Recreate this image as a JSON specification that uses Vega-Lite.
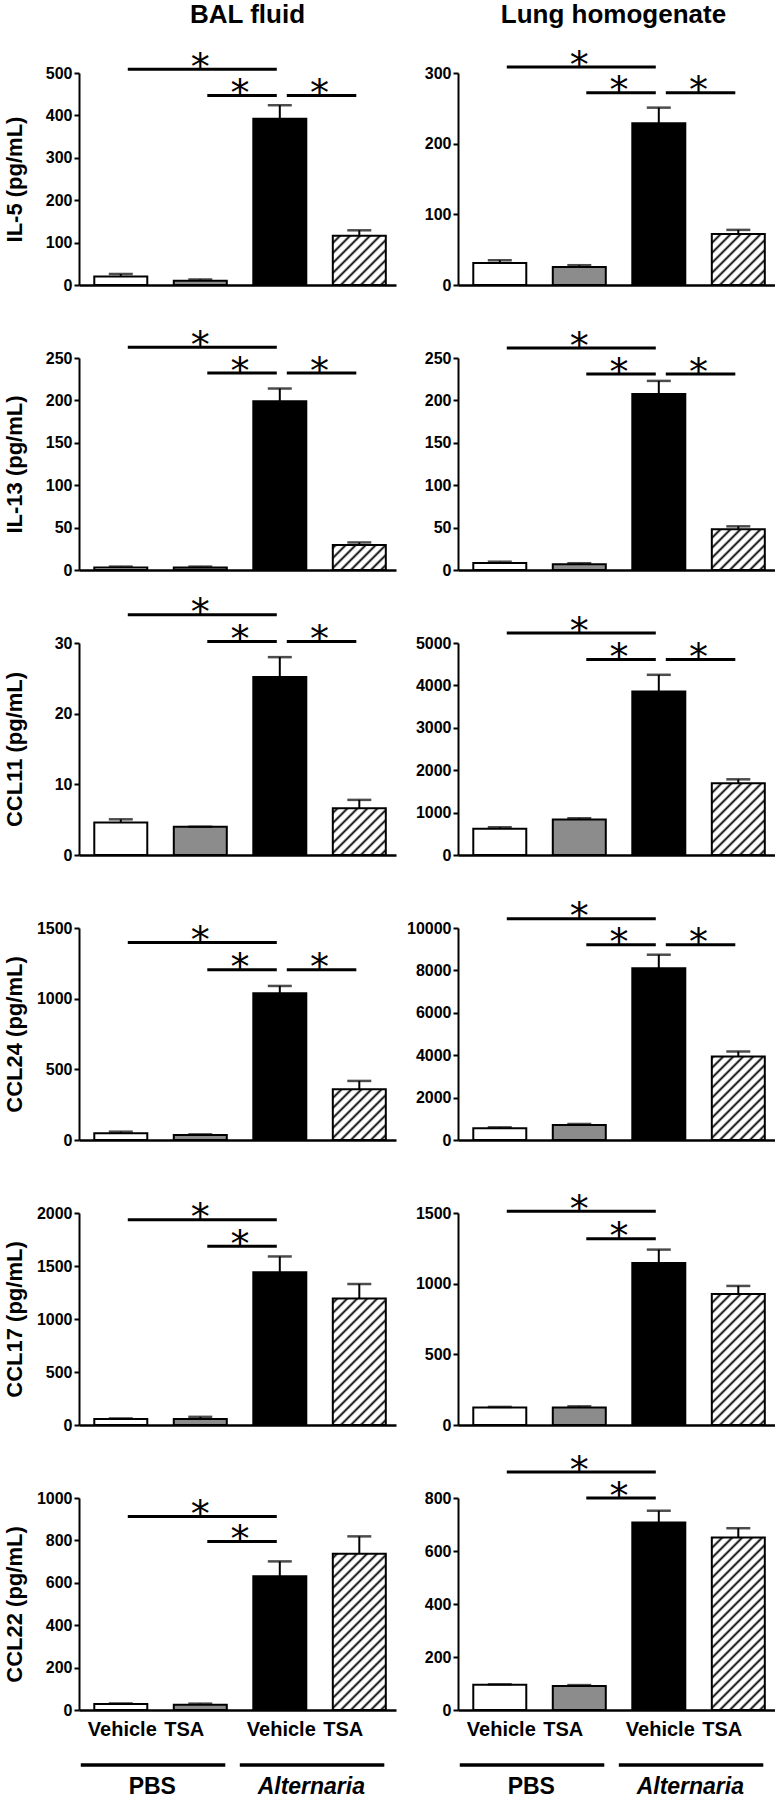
{
"$schema": "https://vega.github.io/schema/vega-lite/v6.json",
"padding": {"left": 3, "top": 2, "right": 0, "bottom": 0},
"columns": 2,
"spacing": {"row": 73, "column": 62},
"bounds": "flush",
"datasets": {
"bars": [
{"source":"BAL fluid","cytokine":"IL-5","group":"PBS Vehicle","mean":20,"upper":26},
{"source":"BAL fluid","cytokine":"IL-5","group":"PBS TSA","mean":10,"upper":13},
{"source":"BAL fluid","cytokine":"IL-5","group":"Alternaria Vehicle","mean":392,"upper":424},
{"source":"BAL fluid","cytokine":"IL-5","group":"Alternaria TSA","mean":116,"upper":129},
{"source":"Lung homogenate","cytokine":"IL-5","group":"PBS Vehicle","mean":31,"upper":35},
{"source":"Lung homogenate","cytokine":"IL-5","group":"PBS TSA","mean":25.5,"upper":28},
{"source":"Lung homogenate","cytokine":"IL-5","group":"Alternaria Vehicle","mean":229,"upper":251},
{"source":"Lung homogenate","cytokine":"IL-5","group":"Alternaria TSA","mean":72,"upper":78},
{"source":"BAL fluid","cytokine":"IL-13","group":"PBS Vehicle","mean":3,"upper":4},
{"source":"BAL fluid","cytokine":"IL-13","group":"PBS TSA","mean":3,"upper":4},
{"source":"BAL fluid","cytokine":"IL-13","group":"Alternaria Vehicle","mean":199,"upper":214},
{"source":"BAL fluid","cytokine":"IL-13","group":"Alternaria TSA","mean":29.5,"upper":32.5},
{"source":"Lung homogenate","cytokine":"IL-13","group":"PBS Vehicle","mean":8.3,"upper":9.8},
{"source":"Lung homogenate","cytokine":"IL-13","group":"PBS TSA","mean":6.7,"upper":8},
{"source":"Lung homogenate","cytokine":"IL-13","group":"Alternaria Vehicle","mean":207.5,"upper":223},
{"source":"Lung homogenate","cytokine":"IL-13","group":"Alternaria TSA","mean":48,"upper":51.5},
{"source":"BAL fluid","cytokine":"CCL11","group":"PBS Vehicle","mean":4.6,"upper":5.05},
{"source":"BAL fluid","cytokine":"CCL11","group":"PBS TSA","mean":4.0,"upper":4.0},
{"source":"BAL fluid","cytokine":"CCL11","group":"Alternaria Vehicle","mean":25.2,"upper":28.0},
{"source":"BAL fluid","cytokine":"CCL11","group":"Alternaria TSA","mean":6.6,"upper":7.8},
{"source":"Lung homogenate","cytokine":"CCL11","group":"PBS Vehicle","mean":620,"upper":655},
{"source":"Lung homogenate","cytokine":"CCL11","group":"PBS TSA","mean":835,"upper":867},
{"source":"Lung homogenate","cytokine":"CCL11","group":"Alternaria Vehicle","mean":3855,"upper":4250},
{"source":"Lung homogenate","cytokine":"CCL11","group":"Alternaria TSA","mean":1690,"upper":1785},
{"source":"BAL fluid","cytokine":"CCL24","group":"PBS Vehicle","mean":47,"upper":59},
{"source":"BAL fluid","cytokine":"CCL24","group":"PBS TSA","mean":35,"upper":40},
{"source":"BAL fluid","cytokine":"CCL24","group":"Alternaria Vehicle","mean":1039,"upper":1090},
{"source":"BAL fluid","cytokine":"CCL24","group":"Alternaria TSA","mean":359,"upper":418},
{"source":"Lung homogenate","cytokine":"CCL24","group":"PBS Vehicle","mean":550,"upper":598},
{"source":"Lung homogenate","cytokine":"CCL24","group":"PBS TSA","mean":710,"upper":756},
{"source":"Lung homogenate","cytokine":"CCL24","group":"Alternaria Vehicle","mean":8100,"upper":8740},
{"source":"Lung homogenate","cytokine":"CCL24","group":"Alternaria TSA","mean":3940,"upper":4175},
{"source":"BAL fluid","cytokine":"CCL17","group":"PBS Vehicle","mean":57,"upper":62},
{"source":"BAL fluid","cytokine":"CCL17","group":"PBS TSA","mean":57,"upper":77},
{"source":"BAL fluid","cytokine":"CCL17","group":"Alternaria Vehicle","mean":1440,"upper":1590},
{"source":"BAL fluid","cytokine":"CCL17","group":"Alternaria TSA","mean":1193,"upper":1330},
{"source":"Lung homogenate","cytokine":"CCL17","group":"PBS Vehicle","mean":123,"upper":128},
{"source":"Lung homogenate","cytokine":"CCL17","group":"PBS TSA","mean":123,"upper":132},
{"source":"Lung homogenate","cytokine":"CCL17","group":"Alternaria Vehicle","mean":1146,"upper":1241},
{"source":"Lung homogenate","cytokine":"CCL17","group":"Alternaria TSA","mean":927,"upper":984},
{"source":"BAL fluid","cytokine":"CCL22","group":"PBS Vehicle","mean":28,"upper":31},
{"source":"BAL fluid","cytokine":"CCL22","group":"PBS TSA","mean":25,"upper":30},
{"source":"BAL fluid","cytokine":"CCL22","group":"Alternaria Vehicle","mean":631,"upper":701},
{"source":"BAL fluid","cytokine":"CCL22","group":"Alternaria TSA","mean":737,"upper":819},
{"source":"Lung homogenate","cytokine":"CCL22","group":"PBS Vehicle","mean":95,"upper":97},
{"source":"Lung homogenate","cytokine":"CCL22","group":"PBS TSA","mean":91,"upper":94},
{"source":"Lung homogenate","cytokine":"CCL22","group":"Alternaria Vehicle","mean":708,"upper":752},
{"source":"Lung homogenate","cytokine":"CCL22","group":"Alternaria TSA","mean":651,"upper":686}
],
"sig": [
{"source":"BAL fluid","cytokine":"IL-5","from":"PBS Vehicle","to":"Alternaria Vehicle","level":509,"label":"*"},
{"source":"BAL fluid","cytokine":"IL-5","from":"PBS TSA","to":"Alternaria Vehicle","level":447,"label":"*"},
{"source":"BAL fluid","cytokine":"IL-5","from":"Alternaria Vehicle","to":"Alternaria TSA","level":447,"label":"*"},
{"source":"Lung homogenate","cytokine":"IL-5","from":"PBS Vehicle","to":"Alternaria Vehicle","level":308.5,"label":"*"},
{"source":"Lung homogenate","cytokine":"IL-5","from":"PBS TSA","to":"Alternaria Vehicle","level":272,"label":"*"},
{"source":"Lung homogenate","cytokine":"IL-5","from":"Alternaria Vehicle","to":"Alternaria TSA","level":272,"label":"*"},
{"source":"BAL fluid","cytokine":"IL-13","from":"PBS Vehicle","to":"Alternaria Vehicle","level":262.6,"label":"*"},
{"source":"BAL fluid","cytokine":"IL-13","from":"PBS TSA","to":"Alternaria Vehicle","level":232.3,"label":"*"},
{"source":"BAL fluid","cytokine":"IL-13","from":"Alternaria Vehicle","to":"Alternaria TSA","level":232.3,"label":"*"},
{"source":"Lung homogenate","cytokine":"IL-13","from":"PBS Vehicle","to":"Alternaria Vehicle","level":261.8,"label":"*"},
{"source":"Lung homogenate","cytokine":"IL-13","from":"PBS TSA","to":"Alternaria Vehicle","level":231,"label":"*"},
{"source":"Lung homogenate","cytokine":"IL-13","from":"Alternaria Vehicle","to":"Alternaria TSA","level":231,"label":"*"},
{"source":"BAL fluid","cytokine":"CCL11","from":"PBS Vehicle","to":"Alternaria Vehicle","level":34.0,"label":"*"},
{"source":"BAL fluid","cytokine":"CCL11","from":"PBS TSA","to":"Alternaria Vehicle","level":30.2,"label":"*"},
{"source":"BAL fluid","cytokine":"CCL11","from":"Alternaria Vehicle","to":"Alternaria TSA","level":30.2,"label":"*"},
{"source":"Lung homogenate","cytokine":"CCL11","from":"PBS Vehicle","to":"Alternaria Vehicle","level":5235,"label":"*"},
{"source":"Lung homogenate","cytokine":"CCL11","from":"PBS TSA","to":"Alternaria Vehicle","level":4608,"label":"*"},
{"source":"Lung homogenate","cytokine":"CCL11","from":"Alternaria Vehicle","to":"Alternaria TSA","level":4608,"label":"*"},
{"source":"BAL fluid","cytokine":"CCL24","from":"PBS Vehicle","to":"Alternaria Vehicle","level":1398,"label":"*"},
{"source":"BAL fluid","cytokine":"CCL24","from":"PBS TSA","to":"Alternaria Vehicle","level":1205,"label":"*"},
{"source":"BAL fluid","cytokine":"CCL24","from":"Alternaria Vehicle","to":"Alternaria TSA","level":1205,"label":"*"},
{"source":"Lung homogenate","cytokine":"CCL24","from":"PBS Vehicle","to":"Alternaria Vehicle","level":10441,"label":"*"},
{"source":"Lung homogenate","cytokine":"CCL24","from":"PBS TSA","to":"Alternaria Vehicle","level":9213,"label":"*"},
{"source":"Lung homogenate","cytokine":"CCL24","from":"Alternaria Vehicle","to":"Alternaria TSA","level":9213,"label":"*"},
{"source":"BAL fluid","cytokine":"CCL17","from":"PBS Vehicle","to":"Alternaria Vehicle","level":1937,"label":"*"},
{"source":"BAL fluid","cytokine":"CCL17","from":"PBS TSA","to":"Alternaria Vehicle","level":1687,"label":"*"},
{"source":"Lung homogenate","cytokine":"CCL17","from":"PBS Vehicle","to":"Alternaria Vehicle","level":1512,"label":"*"},
{"source":"Lung homogenate","cytokine":"CCL17","from":"PBS TSA","to":"Alternaria Vehicle","level":1318,"label":"*"},
{"source":"BAL fluid","cytokine":"CCL22","from":"PBS Vehicle","to":"Alternaria Vehicle","level":913,"label":"*"},
{"source":"BAL fluid","cytokine":"CCL22","from":"PBS TSA","to":"Alternaria Vehicle","level":795,"label":"*"},
{"source":"Lung homogenate","cytokine":"CCL22","from":"PBS Vehicle","to":"Alternaria Vehicle","level":898,"label":"*"},
{"source":"Lung homogenate","cytokine":"CCL22","from":"PBS TSA","to":"Alternaria Vehicle","level":800,"label":"*"}
],
"groups": [
{"name":"PBS","from":"PBS Vehicle","to":"PBS TSA"},
{"name":"Alternaria","from":"Alternaria Vehicle","to":"Alternaria TSA"}
]
},
"concat": [
{"width":317,"height":212,
"title":{"text":"BAL fluid","fontSize":26,"fontWeight":"bold","font":"Liberation Sans","anchor":"middle","frame":"group","baseline":"alphabetic","offset":0.6,"dx":10,"color":"#000000"},
"layer":[
{"data":{"name":"bars"},"transform":[{"filter":"datum.source === 'BAL fluid' && datum.cytokine === 'IL-5' && datum.group === 'Alternaria TSA'"}],"mark":{"type":"bar","size":53,"strokeWidth":0,"fill":{"gradient":"linear","x1":0,"y1":0,"x2":0.29967,"y2":1.19867,"stops":[{"offset":0,"color":"#000"},{"offset":0.0096,"color":"#fff"},{"offset":0.0274,"color":"#fff"},{"offset":0.037,"color":"#000"},{"offset":0.0467,"color":"#fff"},{"offset":0.0644,"color":"#fff"},{"offset":0.0741,"color":"#000"},{"offset":0.0837,"color":"#fff"},{"offset":0.1015,"color":"#fff"},{"offset":0.1111,"color":"#000"},{"offset":0.1207,"color":"#fff"},{"offset":0.1385,"color":"#fff"},{"offset":0.1481,"color":"#000"},{"offset":0.1578,"color":"#fff"},{"offset":0.1756,"color":"#fff"},{"offset":0.1852,"color":"#000"},{"offset":0.1948,"color":"#fff"},{"offset":0.2126,"color":"#fff"},{"offset":0.2222,"color":"#000"},{"offset":0.2319,"color":"#fff"},{"offset":0.2496,"color":"#fff"},{"offset":0.2593,"color":"#000"},{"offset":0.2689,"color":"#fff"},{"offset":0.2867,"color":"#fff"},{"offset":0.2963,"color":"#000"},{"offset":0.3059,"color":"#fff"},{"offset":0.3237,"color":"#fff"},{"offset":0.3333,"color":"#000"},{"offset":0.343,"color":"#fff"},{"offset":0.3607,"color":"#fff"},{"offset":0.3704,"color":"#000"},{"offset":0.38,"color":"#fff"},{"offset":0.3978,"color":"#fff"},{"offset":0.4074,"color":"#000"},{"offset":0.417,"color":"#fff"},{"offset":0.4348,"color":"#fff"},{"offset":0.4444,"color":"#000"},{"offset":0.4541,"color":"#fff"},{"offset":0.4719,"color":"#fff"},{"offset":0.4815,"color":"#000"},{"offset":0.4911,"color":"#fff"},{"offset":0.5089,"color":"#fff"},{"offset":0.5185,"color":"#000"},{"offset":0.5281,"color":"#fff"},{"offset":0.5459,"color":"#fff"},{"offset":0.5556,"color":"#000"},{"offset":0.5652,"color":"#fff"},{"offset":0.583,"color":"#fff"},{"offset":0.5926,"color":"#000"},{"offset":0.6022,"color":"#fff"},{"offset":0.62,"color":"#fff"},{"offset":0.6296,"color":"#000"},{"offset":0.6393,"color":"#fff"},{"offset":0.657,"color":"#fff"},{"offset":0.6667,"color":"#000"},{"offset":0.6763,"color":"#fff"},{"offset":0.6941,"color":"#fff"},{"offset":0.7037,"color":"#000"},{"offset":0.7133,"color":"#fff"},{"offset":0.7311,"color":"#fff"},{"offset":0.7407,"color":"#000"},{"offset":0.7504,"color":"#fff"},{"offset":0.7681,"color":"#fff"},{"offset":0.7778,"color":"#000"},{"offset":0.7874,"color":"#fff"},{"offset":0.8052,"color":"#fff"},{"offset":0.8148,"color":"#000"},{"offset":0.8244,"color":"#fff"},{"offset":0.8422,"color":"#fff"},{"offset":0.8519,"color":"#000"},{"offset":0.8615,"color":"#fff"},{"offset":0.8793,"color":"#fff"},{"offset":0.8889,"color":"#000"},{"offset":0.8985,"color":"#fff"},{"offset":0.9163,"color":"#fff"},{"offset":0.9259,"color":"#000"},{"offset":0.9356,"color":"#fff"},{"offset":0.9533,"color":"#fff"},{"offset":0.963,"color":"#000"},{"offset":0.9726,"color":"#fff"},{"offset":0.9904,"color":"#fff"},{"offset":1,"color":"#000"}]}},"encoding":{"x":{"field":"group","type":"nominal","scale":{"type":"band","domain":["PBS Vehicle","PBS TSA","Alternaria Vehicle","Alternaria TSA"],"paddingInner":0.333,"paddingOuter":0.16,"align":0.6}},"y":{"datum":500,"type":"quantitative","scale":{"domain":[0,500],"nice":false}},"y2":{"datum":0}}},
{"data":{"name":"bars"},"transform":[{"filter":"datum.source === 'BAL fluid' && datum.cytokine === 'IL-5' && datum.group === 'Alternaria TSA'"}],"mark":{"type":"bar","fill":"#ffffff","size":57,"strokeWidth":0},"encoding":{"x":{"field":"group","type":"nominal","scale":{"type":"band","domain":["PBS Vehicle","PBS TSA","Alternaria Vehicle","Alternaria TSA"],"paddingInner":0.333,"paddingOuter":0.16,"align":0.6}},"y":{"field":"mean","type":"quantitative","scale":{"domain":[0,500],"nice":false}},"y2":{"datum":500}}},
{"data":{"name":"bars"},"transform":[{"filter":"datum.source === 'BAL fluid' && datum.cytokine === 'IL-5'"}],"mark":{"type":"bar","size":53,"stroke":"#000000","strokeWidth":2},"encoding":{"x":{"field":"group","type":"nominal","scale":{"type":"band","domain":["PBS Vehicle","PBS TSA","Alternaria Vehicle","Alternaria TSA"],"paddingInner":0.333,"paddingOuter":0.16,"align":0.6},"axis":{"title":null,"labels":false,"ticks":false,"domainWidth":2.5}},"y":{"field":"mean","type":"quantitative","scale":{"domain":[0,500],"nice":false},"axis":{"title":"IL-5 (pg/mL)","values":[0,100,200,300,400,500],"format":"d","titlePadding":19.3}},"fill":{"field":"group","type":"nominal","scale":{"domain":["PBS Vehicle","PBS TSA","Alternaria Vehicle","Alternaria TSA"],"range":["#ffffff","#8c8c8c","#000000","transparent"]},"legend":null}}},
{"data":{"name":"bars"},"transform":[{"filter":"datum.source === 'BAL fluid' && datum.cytokine === 'IL-5'"}],"mark":{"type":"rule","color":"#000000","strokeWidth":2},"encoding":{"x":{"field":"group","type":"nominal","scale":{"type":"band","domain":["PBS Vehicle","PBS TSA","Alternaria Vehicle","Alternaria TSA"],"paddingInner":0.333,"paddingOuter":0.16,"align":0.6}},"y":{"field":"mean","type":"quantitative","scale":{"domain":[0,500],"nice":false}},"y2":{"field":"upper"}}},
{"data":{"name":"bars"},"transform":[{"filter":"datum.source === 'BAL fluid' && datum.cytokine === 'IL-5'"}],"mark":{"type":"tick","color":"#000000","size":24,"thickness":2.5},"encoding":{"x":{"field":"group","type":"nominal","scale":{"type":"band","domain":["PBS Vehicle","PBS TSA","Alternaria Vehicle","Alternaria TSA"],"paddingInner":0.333,"paddingOuter":0.16,"align":0.6}},"y":{"field":"upper","type":"quantitative","scale":{"domain":[0,500],"nice":false}}}},
{"data":{"name":"sig"},"transform":[{"filter":"datum.source === 'BAL fluid' && datum.cytokine === 'IL-5'"}],"mark":{"type":"rule","color":"#000000","strokeWidth":3,"xOffset":7,"x2Offset":-3},"encoding":{"x":{"field":"from","type":"nominal","bandPosition":0.5,"scale":{"type":"band","domain":["PBS Vehicle","PBS TSA","Alternaria Vehicle","Alternaria TSA"],"paddingInner":0.333,"paddingOuter":0.16,"align":0.6}},"x2":{"field":"to"},"y":{"field":"level","type":"quantitative","scale":{"domain":[0,500],"nice":false}}}},
{"data":{"name":"sig"},"transform":[{"filter":"datum.source === 'BAL fluid' && datum.cytokine === 'IL-5' && datum.from === 'PBS Vehicle'"}],"mark":{"type":"text","font":"DejaVu Sans","fontSize":38,"dx":79.5,"dy":10.7,"baseline":"alphabetic","align":"center","color":"#000000"},"encoding":{"x":{"field":"from","type":"nominal","bandPosition":0.5,"scale":{"type":"band","domain":["PBS Vehicle","PBS TSA","Alternaria Vehicle","Alternaria TSA"],"paddingInner":0.333,"paddingOuter":0.16,"align":0.6}},"y":{"field":"level","type":"quantitative","scale":{"domain":[0,500],"nice":false}},"text":{"field":"label"}}},
{"data":{"name":"sig"},"transform":[{"filter":"datum.source === 'BAL fluid' && datum.cytokine === 'IL-5' && datum.from !== 'PBS Vehicle'"}],"mark":{"type":"text","font":"DejaVu Sans","fontSize":38,"dx":39.75,"dy":10.7,"baseline":"alphabetic","align":"center","color":"#000000"},"encoding":{"x":{"field":"from","type":"nominal","bandPosition":0.5,"scale":{"type":"band","domain":["PBS Vehicle","PBS TSA","Alternaria Vehicle","Alternaria TSA"],"paddingInner":0.333,"paddingOuter":0.16,"align":0.6}},"y":{"field":"level","type":"quantitative","scale":{"domain":[0,500],"nice":false}},"text":{"field":"label"}}}
]},
{"width":317,"height":212,
"title":{"text":"Lung homogenate","fontSize":26,"fontWeight":"bold","font":"Liberation Sans","anchor":"middle","frame":"group","baseline":"alphabetic","offset":-1.4,"dx":-3,"color":"#000000"},
"layer":[
{"data":{"name":"bars"},"transform":[{"filter":"datum.source === 'Lung homogenate' && datum.cytokine === 'IL-5' && datum.group === 'Alternaria TSA'"}],"mark":{"type":"bar","size":53,"strokeWidth":0,"fill":{"gradient":"linear","x1":0,"y1":0,"x2":0.29967,"y2":1.19867,"stops":[{"offset":0,"color":"#000"},{"offset":0.0096,"color":"#fff"},{"offset":0.0274,"color":"#fff"},{"offset":0.037,"color":"#000"},{"offset":0.0467,"color":"#fff"},{"offset":0.0644,"color":"#fff"},{"offset":0.0741,"color":"#000"},{"offset":0.0837,"color":"#fff"},{"offset":0.1015,"color":"#fff"},{"offset":0.1111,"color":"#000"},{"offset":0.1207,"color":"#fff"},{"offset":0.1385,"color":"#fff"},{"offset":0.1481,"color":"#000"},{"offset":0.1578,"color":"#fff"},{"offset":0.1756,"color":"#fff"},{"offset":0.1852,"color":"#000"},{"offset":0.1948,"color":"#fff"},{"offset":0.2126,"color":"#fff"},{"offset":0.2222,"color":"#000"},{"offset":0.2319,"color":"#fff"},{"offset":0.2496,"color":"#fff"},{"offset":0.2593,"color":"#000"},{"offset":0.2689,"color":"#fff"},{"offset":0.2867,"color":"#fff"},{"offset":0.2963,"color":"#000"},{"offset":0.3059,"color":"#fff"},{"offset":0.3237,"color":"#fff"},{"offset":0.3333,"color":"#000"},{"offset":0.343,"color":"#fff"},{"offset":0.3607,"color":"#fff"},{"offset":0.3704,"color":"#000"},{"offset":0.38,"color":"#fff"},{"offset":0.3978,"color":"#fff"},{"offset":0.4074,"color":"#000"},{"offset":0.417,"color":"#fff"},{"offset":0.4348,"color":"#fff"},{"offset":0.4444,"color":"#000"},{"offset":0.4541,"color":"#fff"},{"offset":0.4719,"color":"#fff"},{"offset":0.4815,"color":"#000"},{"offset":0.4911,"color":"#fff"},{"offset":0.5089,"color":"#fff"},{"offset":0.5185,"color":"#000"},{"offset":0.5281,"color":"#fff"},{"offset":0.5459,"color":"#fff"},{"offset":0.5556,"color":"#000"},{"offset":0.5652,"color":"#fff"},{"offset":0.583,"color":"#fff"},{"offset":0.5926,"color":"#000"},{"offset":0.6022,"color":"#fff"},{"offset":0.62,"color":"#fff"},{"offset":0.6296,"color":"#000"},{"offset":0.6393,"color":"#fff"},{"offset":0.657,"color":"#fff"},{"offset":0.6667,"color":"#000"},{"offset":0.6763,"color":"#fff"},{"offset":0.6941,"color":"#fff"},{"offset":0.7037,"color":"#000"},{"offset":0.7133,"color":"#fff"},{"offset":0.7311,"color":"#fff"},{"offset":0.7407,"color":"#000"},{"offset":0.7504,"color":"#fff"},{"offset":0.7681,"color":"#fff"},{"offset":0.7778,"color":"#000"},{"offset":0.7874,"color":"#fff"},{"offset":0.8052,"color":"#fff"},{"offset":0.8148,"color":"#000"},{"offset":0.8244,"color":"#fff"},{"offset":0.8422,"color":"#fff"},{"offset":0.8519,"color":"#000"},{"offset":0.8615,"color":"#fff"},{"offset":0.8793,"color":"#fff"},{"offset":0.8889,"color":"#000"},{"offset":0.8985,"color":"#fff"},{"offset":0.9163,"color":"#fff"},{"offset":0.9259,"color":"#000"},{"offset":0.9356,"color":"#fff"},{"offset":0.9533,"color":"#fff"},{"offset":0.963,"color":"#000"},{"offset":0.9726,"color":"#fff"},{"offset":0.9904,"color":"#fff"},{"offset":1,"color":"#000"}]}},"encoding":{"x":{"field":"group","type":"nominal","scale":{"type":"band","domain":["PBS Vehicle","PBS TSA","Alternaria Vehicle","Alternaria TSA"],"paddingInner":0.333,"paddingOuter":0.16,"align":0.6}},"y":{"datum":300,"type":"quantitative","scale":{"domain":[0,300],"nice":false}},"y2":{"datum":0}}},
{"data":{"name":"bars"},"transform":[{"filter":"datum.source === 'Lung homogenate' && datum.cytokine === 'IL-5' && datum.group === 'Alternaria TSA'"}],"mark":{"type":"bar","fill":"#ffffff","size":57,"strokeWidth":0},"encoding":{"x":{"field":"group","type":"nominal","scale":{"type":"band","domain":["PBS Vehicle","PBS TSA","Alternaria Vehicle","Alternaria TSA"],"paddingInner":0.333,"paddingOuter":0.16,"align":0.6}},"y":{"field":"mean","type":"quantitative","scale":{"domain":[0,300],"nice":false}},"y2":{"datum":300}}},
{"data":{"name":"bars"},"transform":[{"filter":"datum.source === 'Lung homogenate' && datum.cytokine === 'IL-5'"}],"mark":{"type":"bar","size":53,"stroke":"#000000","strokeWidth":2},"encoding":{"x":{"field":"group","type":"nominal","scale":{"type":"band","domain":["PBS Vehicle","PBS TSA","Alternaria Vehicle","Alternaria TSA"],"paddingInner":0.333,"paddingOuter":0.16,"align":0.6},"axis":{"title":null,"labels":false,"ticks":false,"domainWidth":2.5}},"y":{"field":"mean","type":"quantitative","scale":{"domain":[0,300],"nice":false},"axis":{"title":null,"values":[0,100,200,300],"format":"d"}},"fill":{"field":"group","type":"nominal","scale":{"domain":["PBS Vehicle","PBS TSA","Alternaria Vehicle","Alternaria TSA"],"range":["#ffffff","#8c8c8c","#000000","transparent"]},"legend":null}}},
{"data":{"name":"bars"},"transform":[{"filter":"datum.source === 'Lung homogenate' && datum.cytokine === 'IL-5'"}],"mark":{"type":"rule","color":"#000000","strokeWidth":2},"encoding":{"x":{"field":"group","type":"nominal","scale":{"type":"band","domain":["PBS Vehicle","PBS TSA","Alternaria Vehicle","Alternaria TSA"],"paddingInner":0.333,"paddingOuter":0.16,"align":0.6}},"y":{"field":"mean","type":"quantitative","scale":{"domain":[0,300],"nice":false}},"y2":{"field":"upper"}}},
{"data":{"name":"bars"},"transform":[{"filter":"datum.source === 'Lung homogenate' && datum.cytokine === 'IL-5'"}],"mark":{"type":"tick","color":"#000000","size":24,"thickness":2.5},"encoding":{"x":{"field":"group","type":"nominal","scale":{"type":"band","domain":["PBS Vehicle","PBS TSA","Alternaria Vehicle","Alternaria TSA"],"paddingInner":0.333,"paddingOuter":0.16,"align":0.6}},"y":{"field":"upper","type":"quantitative","scale":{"domain":[0,300],"nice":false}}}},
{"data":{"name":"sig"},"transform":[{"filter":"datum.source === 'Lung homogenate' && datum.cytokine === 'IL-5'"}],"mark":{"type":"rule","color":"#000000","strokeWidth":3,"xOffset":7,"x2Offset":-3},"encoding":{"x":{"field":"from","type":"nominal","bandPosition":0.5,"scale":{"type":"band","domain":["PBS Vehicle","PBS TSA","Alternaria Vehicle","Alternaria TSA"],"paddingInner":0.333,"paddingOuter":0.16,"align":0.6}},"x2":{"field":"to"},"y":{"field":"level","type":"quantitative","scale":{"domain":[0,300],"nice":false}}}},
{"data":{"name":"sig"},"transform":[{"filter":"datum.source === 'Lung homogenate' && datum.cytokine === 'IL-5' && datum.from === 'PBS Vehicle'"}],"mark":{"type":"text","font":"DejaVu Sans","fontSize":38,"dx":79.5,"dy":10.7,"baseline":"alphabetic","align":"center","color":"#000000"},"encoding":{"x":{"field":"from","type":"nominal","bandPosition":0.5,"scale":{"type":"band","domain":["PBS Vehicle","PBS TSA","Alternaria Vehicle","Alternaria TSA"],"paddingInner":0.333,"paddingOuter":0.16,"align":0.6}},"y":{"field":"level","type":"quantitative","scale":{"domain":[0,300],"nice":false}},"text":{"field":"label"}}},
{"data":{"name":"sig"},"transform":[{"filter":"datum.source === 'Lung homogenate' && datum.cytokine === 'IL-5' && datum.from !== 'PBS Vehicle'"}],"mark":{"type":"text","font":"DejaVu Sans","fontSize":38,"dx":39.75,"dy":10.7,"baseline":"alphabetic","align":"center","color":"#000000"},"encoding":{"x":{"field":"from","type":"nominal","bandPosition":0.5,"scale":{"type":"band","domain":["PBS Vehicle","PBS TSA","Alternaria Vehicle","Alternaria TSA"],"paddingInner":0.333,"paddingOuter":0.16,"align":0.6}},"y":{"field":"level","type":"quantitative","scale":{"domain":[0,300],"nice":false}},"text":{"field":"label"}}}
]},
{"width":317,"height":212,
"layer":[
{"data":{"name":"bars"},"transform":[{"filter":"datum.source === 'BAL fluid' && datum.cytokine === 'IL-13' && datum.group === 'Alternaria TSA'"}],"mark":{"type":"bar","size":53,"strokeWidth":0,"fill":{"gradient":"linear","x1":0,"y1":0,"x2":0.29967,"y2":1.19867,"stops":[{"offset":0,"color":"#000"},{"offset":0.0096,"color":"#fff"},{"offset":0.0274,"color":"#fff"},{"offset":0.037,"color":"#000"},{"offset":0.0467,"color":"#fff"},{"offset":0.0644,"color":"#fff"},{"offset":0.0741,"color":"#000"},{"offset":0.0837,"color":"#fff"},{"offset":0.1015,"color":"#fff"},{"offset":0.1111,"color":"#000"},{"offset":0.1207,"color":"#fff"},{"offset":0.1385,"color":"#fff"},{"offset":0.1481,"color":"#000"},{"offset":0.1578,"color":"#fff"},{"offset":0.1756,"color":"#fff"},{"offset":0.1852,"color":"#000"},{"offset":0.1948,"color":"#fff"},{"offset":0.2126,"color":"#fff"},{"offset":0.2222,"color":"#000"},{"offset":0.2319,"color":"#fff"},{"offset":0.2496,"color":"#fff"},{"offset":0.2593,"color":"#000"},{"offset":0.2689,"color":"#fff"},{"offset":0.2867,"color":"#fff"},{"offset":0.2963,"color":"#000"},{"offset":0.3059,"color":"#fff"},{"offset":0.3237,"color":"#fff"},{"offset":0.3333,"color":"#000"},{"offset":0.343,"color":"#fff"},{"offset":0.3607,"color":"#fff"},{"offset":0.3704,"color":"#000"},{"offset":0.38,"color":"#fff"},{"offset":0.3978,"color":"#fff"},{"offset":0.4074,"color":"#000"},{"offset":0.417,"color":"#fff"},{"offset":0.4348,"color":"#fff"},{"offset":0.4444,"color":"#000"},{"offset":0.4541,"color":"#fff"},{"offset":0.4719,"color":"#fff"},{"offset":0.4815,"color":"#000"},{"offset":0.4911,"color":"#fff"},{"offset":0.5089,"color":"#fff"},{"offset":0.5185,"color":"#000"},{"offset":0.5281,"color":"#fff"},{"offset":0.5459,"color":"#fff"},{"offset":0.5556,"color":"#000"},{"offset":0.5652,"color":"#fff"},{"offset":0.583,"color":"#fff"},{"offset":0.5926,"color":"#000"},{"offset":0.6022,"color":"#fff"},{"offset":0.62,"color":"#fff"},{"offset":0.6296,"color":"#000"},{"offset":0.6393,"color":"#fff"},{"offset":0.657,"color":"#fff"},{"offset":0.6667,"color":"#000"},{"offset":0.6763,"color":"#fff"},{"offset":0.6941,"color":"#fff"},{"offset":0.7037,"color":"#000"},{"offset":0.7133,"color":"#fff"},{"offset":0.7311,"color":"#fff"},{"offset":0.7407,"color":"#000"},{"offset":0.7504,"color":"#fff"},{"offset":0.7681,"color":"#fff"},{"offset":0.7778,"color":"#000"},{"offset":0.7874,"color":"#fff"},{"offset":0.8052,"color":"#fff"},{"offset":0.8148,"color":"#000"},{"offset":0.8244,"color":"#fff"},{"offset":0.8422,"color":"#fff"},{"offset":0.8519,"color":"#000"},{"offset":0.8615,"color":"#fff"},{"offset":0.8793,"color":"#fff"},{"offset":0.8889,"color":"#000"},{"offset":0.8985,"color":"#fff"},{"offset":0.9163,"color":"#fff"},{"offset":0.9259,"color":"#000"},{"offset":0.9356,"color":"#fff"},{"offset":0.9533,"color":"#fff"},{"offset":0.963,"color":"#000"},{"offset":0.9726,"color":"#fff"},{"offset":0.9904,"color":"#fff"},{"offset":1,"color":"#000"}]}},"encoding":{"x":{"field":"group","type":"nominal","scale":{"type":"band","domain":["PBS Vehicle","PBS TSA","Alternaria Vehicle","Alternaria TSA"],"paddingInner":0.333,"paddingOuter":0.16,"align":0.6}},"y":{"datum":250,"type":"quantitative","scale":{"domain":[0,250],"nice":false}},"y2":{"datum":0}}},
{"data":{"name":"bars"},"transform":[{"filter":"datum.source === 'BAL fluid' && datum.cytokine === 'IL-13' && datum.group === 'Alternaria TSA'"}],"mark":{"type":"bar","fill":"#ffffff","size":57,"strokeWidth":0},"encoding":{"x":{"field":"group","type":"nominal","scale":{"type":"band","domain":["PBS Vehicle","PBS TSA","Alternaria Vehicle","Alternaria TSA"],"paddingInner":0.333,"paddingOuter":0.16,"align":0.6}},"y":{"field":"mean","type":"quantitative","scale":{"domain":[0,250],"nice":false}},"y2":{"datum":250}}},
{"data":{"name":"bars"},"transform":[{"filter":"datum.source === 'BAL fluid' && datum.cytokine === 'IL-13'"}],"mark":{"type":"bar","size":53,"stroke":"#000000","strokeWidth":2},"encoding":{"x":{"field":"group","type":"nominal","scale":{"type":"band","domain":["PBS Vehicle","PBS TSA","Alternaria Vehicle","Alternaria TSA"],"paddingInner":0.333,"paddingOuter":0.16,"align":0.6},"axis":{"title":null,"labels":false,"ticks":false,"domainWidth":2.5}},"y":{"field":"mean","type":"quantitative","scale":{"domain":[0,250],"nice":false},"axis":{"title":"IL-13 (pg/mL)","values":[0,50,100,150,200,250],"format":"d","titlePadding":19.3}},"fill":{"field":"group","type":"nominal","scale":{"domain":["PBS Vehicle","PBS TSA","Alternaria Vehicle","Alternaria TSA"],"range":["#ffffff","#8c8c8c","#000000","transparent"]},"legend":null}}},
{"data":{"name":"bars"},"transform":[{"filter":"datum.source === 'BAL fluid' && datum.cytokine === 'IL-13'"}],"mark":{"type":"rule","color":"#000000","strokeWidth":2},"encoding":{"x":{"field":"group","type":"nominal","scale":{"type":"band","domain":["PBS Vehicle","PBS TSA","Alternaria Vehicle","Alternaria TSA"],"paddingInner":0.333,"paddingOuter":0.16,"align":0.6}},"y":{"field":"mean","type":"quantitative","scale":{"domain":[0,250],"nice":false}},"y2":{"field":"upper"}}},
{"data":{"name":"bars"},"transform":[{"filter":"datum.source === 'BAL fluid' && datum.cytokine === 'IL-13'"}],"mark":{"type":"tick","color":"#000000","size":24,"thickness":2.5},"encoding":{"x":{"field":"group","type":"nominal","scale":{"type":"band","domain":["PBS Vehicle","PBS TSA","Alternaria Vehicle","Alternaria TSA"],"paddingInner":0.333,"paddingOuter":0.16,"align":0.6}},"y":{"field":"upper","type":"quantitative","scale":{"domain":[0,250],"nice":false}}}},
{"data":{"name":"sig"},"transform":[{"filter":"datum.source === 'BAL fluid' && datum.cytokine === 'IL-13'"}],"mark":{"type":"rule","color":"#000000","strokeWidth":3,"xOffset":7,"x2Offset":-3},"encoding":{"x":{"field":"from","type":"nominal","bandPosition":0.5,"scale":{"type":"band","domain":["PBS Vehicle","PBS TSA","Alternaria Vehicle","Alternaria TSA"],"paddingInner":0.333,"paddingOuter":0.16,"align":0.6}},"x2":{"field":"to"},"y":{"field":"level","type":"quantitative","scale":{"domain":[0,250],"nice":false}}}},
{"data":{"name":"sig"},"transform":[{"filter":"datum.source === 'BAL fluid' && datum.cytokine === 'IL-13' && datum.from === 'PBS Vehicle'"}],"mark":{"type":"text","font":"DejaVu Sans","fontSize":38,"dx":79.5,"dy":10.7,"baseline":"alphabetic","align":"center","color":"#000000"},"encoding":{"x":{"field":"from","type":"nominal","bandPosition":0.5,"scale":{"type":"band","domain":["PBS Vehicle","PBS TSA","Alternaria Vehicle","Alternaria TSA"],"paddingInner":0.333,"paddingOuter":0.16,"align":0.6}},"y":{"field":"level","type":"quantitative","scale":{"domain":[0,250],"nice":false}},"text":{"field":"label"}}},
{"data":{"name":"sig"},"transform":[{"filter":"datum.source === 'BAL fluid' && datum.cytokine === 'IL-13' && datum.from !== 'PBS Vehicle'"}],"mark":{"type":"text","font":"DejaVu Sans","fontSize":38,"dx":39.75,"dy":10.7,"baseline":"alphabetic","align":"center","color":"#000000"},"encoding":{"x":{"field":"from","type":"nominal","bandPosition":0.5,"scale":{"type":"band","domain":["PBS Vehicle","PBS TSA","Alternaria Vehicle","Alternaria TSA"],"paddingInner":0.333,"paddingOuter":0.16,"align":0.6}},"y":{"field":"level","type":"quantitative","scale":{"domain":[0,250],"nice":false}},"text":{"field":"label"}}}
]},
{"width":317,"height":212,
"layer":[
{"data":{"name":"bars"},"transform":[{"filter":"datum.source === 'Lung homogenate' && datum.cytokine === 'IL-13' && datum.group === 'Alternaria TSA'"}],"mark":{"type":"bar","size":53,"strokeWidth":0,"fill":{"gradient":"linear","x1":0,"y1":0,"x2":0.29967,"y2":1.19867,"stops":[{"offset":0,"color":"#000"},{"offset":0.0096,"color":"#fff"},{"offset":0.0274,"color":"#fff"},{"offset":0.037,"color":"#000"},{"offset":0.0467,"color":"#fff"},{"offset":0.0644,"color":"#fff"},{"offset":0.0741,"color":"#000"},{"offset":0.0837,"color":"#fff"},{"offset":0.1015,"color":"#fff"},{"offset":0.1111,"color":"#000"},{"offset":0.1207,"color":"#fff"},{"offset":0.1385,"color":"#fff"},{"offset":0.1481,"color":"#000"},{"offset":0.1578,"color":"#fff"},{"offset":0.1756,"color":"#fff"},{"offset":0.1852,"color":"#000"},{"offset":0.1948,"color":"#fff"},{"offset":0.2126,"color":"#fff"},{"offset":0.2222,"color":"#000"},{"offset":0.2319,"color":"#fff"},{"offset":0.2496,"color":"#fff"},{"offset":0.2593,"color":"#000"},{"offset":0.2689,"color":"#fff"},{"offset":0.2867,"color":"#fff"},{"offset":0.2963,"color":"#000"},{"offset":0.3059,"color":"#fff"},{"offset":0.3237,"color":"#fff"},{"offset":0.3333,"color":"#000"},{"offset":0.343,"color":"#fff"},{"offset":0.3607,"color":"#fff"},{"offset":0.3704,"color":"#000"},{"offset":0.38,"color":"#fff"},{"offset":0.3978,"color":"#fff"},{"offset":0.4074,"color":"#000"},{"offset":0.417,"color":"#fff"},{"offset":0.4348,"color":"#fff"},{"offset":0.4444,"color":"#000"},{"offset":0.4541,"color":"#fff"},{"offset":0.4719,"color":"#fff"},{"offset":0.4815,"color":"#000"},{"offset":0.4911,"color":"#fff"},{"offset":0.5089,"color":"#fff"},{"offset":0.5185,"color":"#000"},{"offset":0.5281,"color":"#fff"},{"offset":0.5459,"color":"#fff"},{"offset":0.5556,"color":"#000"},{"offset":0.5652,"color":"#fff"},{"offset":0.583,"color":"#fff"},{"offset":0.5926,"color":"#000"},{"offset":0.6022,"color":"#fff"},{"offset":0.62,"color":"#fff"},{"offset":0.6296,"color":"#000"},{"offset":0.6393,"color":"#fff"},{"offset":0.657,"color":"#fff"},{"offset":0.6667,"color":"#000"},{"offset":0.6763,"color":"#fff"},{"offset":0.6941,"color":"#fff"},{"offset":0.7037,"color":"#000"},{"offset":0.7133,"color":"#fff"},{"offset":0.7311,"color":"#fff"},{"offset":0.7407,"color":"#000"},{"offset":0.7504,"color":"#fff"},{"offset":0.7681,"color":"#fff"},{"offset":0.7778,"color":"#000"},{"offset":0.7874,"color":"#fff"},{"offset":0.8052,"color":"#fff"},{"offset":0.8148,"color":"#000"},{"offset":0.8244,"color":"#fff"},{"offset":0.8422,"color":"#fff"},{"offset":0.8519,"color":"#000"},{"offset":0.8615,"color":"#fff"},{"offset":0.8793,"color":"#fff"},{"offset":0.8889,"color":"#000"},{"offset":0.8985,"color":"#fff"},{"offset":0.9163,"color":"#fff"},{"offset":0.9259,"color":"#000"},{"offset":0.9356,"color":"#fff"},{"offset":0.9533,"color":"#fff"},{"offset":0.963,"color":"#000"},{"offset":0.9726,"color":"#fff"},{"offset":0.9904,"color":"#fff"},{"offset":1,"color":"#000"}]}},"encoding":{"x":{"field":"group","type":"nominal","scale":{"type":"band","domain":["PBS Vehicle","PBS TSA","Alternaria Vehicle","Alternaria TSA"],"paddingInner":0.333,"paddingOuter":0.16,"align":0.6}},"y":{"datum":250,"type":"quantitative","scale":{"domain":[0,250],"nice":false}},"y2":{"datum":0}}},
{"data":{"name":"bars"},"transform":[{"filter":"datum.source === 'Lung homogenate' && datum.cytokine === 'IL-13' && datum.group === 'Alternaria TSA'"}],"mark":{"type":"bar","fill":"#ffffff","size":57,"strokeWidth":0},"encoding":{"x":{"field":"group","type":"nominal","scale":{"type":"band","domain":["PBS Vehicle","PBS TSA","Alternaria Vehicle","Alternaria TSA"],"paddingInner":0.333,"paddingOuter":0.16,"align":0.6}},"y":{"field":"mean","type":"quantitative","scale":{"domain":[0,250],"nice":false}},"y2":{"datum":250}}},
{"data":{"name":"bars"},"transform":[{"filter":"datum.source === 'Lung homogenate' && datum.cytokine === 'IL-13'"}],"mark":{"type":"bar","size":53,"stroke":"#000000","strokeWidth":2},"encoding":{"x":{"field":"group","type":"nominal","scale":{"type":"band","domain":["PBS Vehicle","PBS TSA","Alternaria Vehicle","Alternaria TSA"],"paddingInner":0.333,"paddingOuter":0.16,"align":0.6},"axis":{"title":null,"labels":false,"ticks":false,"domainWidth":2.5}},"y":{"field":"mean","type":"quantitative","scale":{"domain":[0,250],"nice":false},"axis":{"title":null,"values":[0,50,100,150,200,250],"format":"d"}},"fill":{"field":"group","type":"nominal","scale":{"domain":["PBS Vehicle","PBS TSA","Alternaria Vehicle","Alternaria TSA"],"range":["#ffffff","#8c8c8c","#000000","transparent"]},"legend":null}}},
{"data":{"name":"bars"},"transform":[{"filter":"datum.source === 'Lung homogenate' && datum.cytokine === 'IL-13'"}],"mark":{"type":"rule","color":"#000000","strokeWidth":2},"encoding":{"x":{"field":"group","type":"nominal","scale":{"type":"band","domain":["PBS Vehicle","PBS TSA","Alternaria Vehicle","Alternaria TSA"],"paddingInner":0.333,"paddingOuter":0.16,"align":0.6}},"y":{"field":"mean","type":"quantitative","scale":{"domain":[0,250],"nice":false}},"y2":{"field":"upper"}}},
{"data":{"name":"bars"},"transform":[{"filter":"datum.source === 'Lung homogenate' && datum.cytokine === 'IL-13'"}],"mark":{"type":"tick","color":"#000000","size":24,"thickness":2.5},"encoding":{"x":{"field":"group","type":"nominal","scale":{"type":"band","domain":["PBS Vehicle","PBS TSA","Alternaria Vehicle","Alternaria TSA"],"paddingInner":0.333,"paddingOuter":0.16,"align":0.6}},"y":{"field":"upper","type":"quantitative","scale":{"domain":[0,250],"nice":false}}}},
{"data":{"name":"sig"},"transform":[{"filter":"datum.source === 'Lung homogenate' && datum.cytokine === 'IL-13'"}],"mark":{"type":"rule","color":"#000000","strokeWidth":3,"xOffset":7,"x2Offset":-3},"encoding":{"x":{"field":"from","type":"nominal","bandPosition":0.5,"scale":{"type":"band","domain":["PBS Vehicle","PBS TSA","Alternaria Vehicle","Alternaria TSA"],"paddingInner":0.333,"paddingOuter":0.16,"align":0.6}},"x2":{"field":"to"},"y":{"field":"level","type":"quantitative","scale":{"domain":[0,250],"nice":false}}}},
{"data":{"name":"sig"},"transform":[{"filter":"datum.source === 'Lung homogenate' && datum.cytokine === 'IL-13' && datum.from === 'PBS Vehicle'"}],"mark":{"type":"text","font":"DejaVu Sans","fontSize":38,"dx":79.5,"dy":10.7,"baseline":"alphabetic","align":"center","color":"#000000"},"encoding":{"x":{"field":"from","type":"nominal","bandPosition":0.5,"scale":{"type":"band","domain":["PBS Vehicle","PBS TSA","Alternaria Vehicle","Alternaria TSA"],"paddingInner":0.333,"paddingOuter":0.16,"align":0.6}},"y":{"field":"level","type":"quantitative","scale":{"domain":[0,250],"nice":false}},"text":{"field":"label"}}},
{"data":{"name":"sig"},"transform":[{"filter":"datum.source === 'Lung homogenate' && datum.cytokine === 'IL-13' && datum.from !== 'PBS Vehicle'"}],"mark":{"type":"text","font":"DejaVu Sans","fontSize":38,"dx":39.75,"dy":10.7,"baseline":"alphabetic","align":"center","color":"#000000"},"encoding":{"x":{"field":"from","type":"nominal","bandPosition":0.5,"scale":{"type":"band","domain":["PBS Vehicle","PBS TSA","Alternaria Vehicle","Alternaria TSA"],"paddingInner":0.333,"paddingOuter":0.16,"align":0.6}},"y":{"field":"level","type":"quantitative","scale":{"domain":[0,250],"nice":false}},"text":{"field":"label"}}}
]},
{"width":317,"height":212,
"layer":[
{"data":{"name":"bars"},"transform":[{"filter":"datum.source === 'BAL fluid' && datum.cytokine === 'CCL11' && datum.group === 'Alternaria TSA'"}],"mark":{"type":"bar","size":53,"strokeWidth":0,"fill":{"gradient":"linear","x1":0,"y1":0,"x2":0.29967,"y2":1.19867,"stops":[{"offset":0,"color":"#000"},{"offset":0.0096,"color":"#fff"},{"offset":0.0274,"color":"#fff"},{"offset":0.037,"color":"#000"},{"offset":0.0467,"color":"#fff"},{"offset":0.0644,"color":"#fff"},{"offset":0.0741,"color":"#000"},{"offset":0.0837,"color":"#fff"},{"offset":0.1015,"color":"#fff"},{"offset":0.1111,"color":"#000"},{"offset":0.1207,"color":"#fff"},{"offset":0.1385,"color":"#fff"},{"offset":0.1481,"color":"#000"},{"offset":0.1578,"color":"#fff"},{"offset":0.1756,"color":"#fff"},{"offset":0.1852,"color":"#000"},{"offset":0.1948,"color":"#fff"},{"offset":0.2126,"color":"#fff"},{"offset":0.2222,"color":"#000"},{"offset":0.2319,"color":"#fff"},{"offset":0.2496,"color":"#fff"},{"offset":0.2593,"color":"#000"},{"offset":0.2689,"color":"#fff"},{"offset":0.2867,"color":"#fff"},{"offset":0.2963,"color":"#000"},{"offset":0.3059,"color":"#fff"},{"offset":0.3237,"color":"#fff"},{"offset":0.3333,"color":"#000"},{"offset":0.343,"color":"#fff"},{"offset":0.3607,"color":"#fff"},{"offset":0.3704,"color":"#000"},{"offset":0.38,"color":"#fff"},{"offset":0.3978,"color":"#fff"},{"offset":0.4074,"color":"#000"},{"offset":0.417,"color":"#fff"},{"offset":0.4348,"color":"#fff"},{"offset":0.4444,"color":"#000"},{"offset":0.4541,"color":"#fff"},{"offset":0.4719,"color":"#fff"},{"offset":0.4815,"color":"#000"},{"offset":0.4911,"color":"#fff"},{"offset":0.5089,"color":"#fff"},{"offset":0.5185,"color":"#000"},{"offset":0.5281,"color":"#fff"},{"offset":0.5459,"color":"#fff"},{"offset":0.5556,"color":"#000"},{"offset":0.5652,"color":"#fff"},{"offset":0.583,"color":"#fff"},{"offset":0.5926,"color":"#000"},{"offset":0.6022,"color":"#fff"},{"offset":0.62,"color":"#fff"},{"offset":0.6296,"color":"#000"},{"offset":0.6393,"color":"#fff"},{"offset":0.657,"color":"#fff"},{"offset":0.6667,"color":"#000"},{"offset":0.6763,"color":"#fff"},{"offset":0.6941,"color":"#fff"},{"offset":0.7037,"color":"#000"},{"offset":0.7133,"color":"#fff"},{"offset":0.7311,"color":"#fff"},{"offset":0.7407,"color":"#000"},{"offset":0.7504,"color":"#fff"},{"offset":0.7681,"color":"#fff"},{"offset":0.7778,"color":"#000"},{"offset":0.7874,"color":"#fff"},{"offset":0.8052,"color":"#fff"},{"offset":0.8148,"color":"#000"},{"offset":0.8244,"color":"#fff"},{"offset":0.8422,"color":"#fff"},{"offset":0.8519,"color":"#000"},{"offset":0.8615,"color":"#fff"},{"offset":0.8793,"color":"#fff"},{"offset":0.8889,"color":"#000"},{"offset":0.8985,"color":"#fff"},{"offset":0.9163,"color":"#fff"},{"offset":0.9259,"color":"#000"},{"offset":0.9356,"color":"#fff"},{"offset":0.9533,"color":"#fff"},{"offset":0.963,"color":"#000"},{"offset":0.9726,"color":"#fff"},{"offset":0.9904,"color":"#fff"},{"offset":1,"color":"#000"}]}},"encoding":{"x":{"field":"group","type":"nominal","scale":{"type":"band","domain":["PBS Vehicle","PBS TSA","Alternaria Vehicle","Alternaria TSA"],"paddingInner":0.333,"paddingOuter":0.16,"align":0.6}},"y":{"datum":30,"type":"quantitative","scale":{"domain":[0,30],"nice":false}},"y2":{"datum":0}}},
{"data":{"name":"bars"},"transform":[{"filter":"datum.source === 'BAL fluid' && datum.cytokine === 'CCL11' && datum.group === 'Alternaria TSA'"}],"mark":{"type":"bar","fill":"#ffffff","size":57,"strokeWidth":0},"encoding":{"x":{"field":"group","type":"nominal","scale":{"type":"band","domain":["PBS Vehicle","PBS TSA","Alternaria Vehicle","Alternaria TSA"],"paddingInner":0.333,"paddingOuter":0.16,"align":0.6}},"y":{"field":"mean","type":"quantitative","scale":{"domain":[0,30],"nice":false}},"y2":{"datum":30}}},
{"data":{"name":"bars"},"transform":[{"filter":"datum.source === 'BAL fluid' && datum.cytokine === 'CCL11'"}],"mark":{"type":"bar","size":53,"stroke":"#000000","strokeWidth":2},"encoding":{"x":{"field":"group","type":"nominal","scale":{"type":"band","domain":["PBS Vehicle","PBS TSA","Alternaria Vehicle","Alternaria TSA"],"paddingInner":0.333,"paddingOuter":0.16,"align":0.6},"axis":{"title":null,"labels":false,"ticks":false,"domainWidth":2.5}},"y":{"field":"mean","type":"quantitative","scale":{"domain":[0,30],"nice":false},"axis":{"title":"CCL11 (pg/mL)","values":[0,10,20,30],"format":"d","titlePadding":28.2}},"fill":{"field":"group","type":"nominal","scale":{"domain":["PBS Vehicle","PBS TSA","Alternaria Vehicle","Alternaria TSA"],"range":["#ffffff","#8c8c8c","#000000","transparent"]},"legend":null}}},
{"data":{"name":"bars"},"transform":[{"filter":"datum.source === 'BAL fluid' && datum.cytokine === 'CCL11'"}],"mark":{"type":"rule","color":"#000000","strokeWidth":2},"encoding":{"x":{"field":"group","type":"nominal","scale":{"type":"band","domain":["PBS Vehicle","PBS TSA","Alternaria Vehicle","Alternaria TSA"],"paddingInner":0.333,"paddingOuter":0.16,"align":0.6}},"y":{"field":"mean","type":"quantitative","scale":{"domain":[0,30],"nice":false}},"y2":{"field":"upper"}}},
{"data":{"name":"bars"},"transform":[{"filter":"datum.source === 'BAL fluid' && datum.cytokine === 'CCL11'"}],"mark":{"type":"tick","color":"#000000","size":24,"thickness":2.5},"encoding":{"x":{"field":"group","type":"nominal","scale":{"type":"band","domain":["PBS Vehicle","PBS TSA","Alternaria Vehicle","Alternaria TSA"],"paddingInner":0.333,"paddingOuter":0.16,"align":0.6}},"y":{"field":"upper","type":"quantitative","scale":{"domain":[0,30],"nice":false}}}},
{"data":{"name":"sig"},"transform":[{"filter":"datum.source === 'BAL fluid' && datum.cytokine === 'CCL11'"}],"mark":{"type":"rule","color":"#000000","strokeWidth":3,"xOffset":7,"x2Offset":-3},"encoding":{"x":{"field":"from","type":"nominal","bandPosition":0.5,"scale":{"type":"band","domain":["PBS Vehicle","PBS TSA","Alternaria Vehicle","Alternaria TSA"],"paddingInner":0.333,"paddingOuter":0.16,"align":0.6}},"x2":{"field":"to"},"y":{"field":"level","type":"quantitative","scale":{"domain":[0,30],"nice":false}}}},
{"data":{"name":"sig"},"transform":[{"filter":"datum.source === 'BAL fluid' && datum.cytokine === 'CCL11' && datum.from === 'PBS Vehicle'"}],"mark":{"type":"text","font":"DejaVu Sans","fontSize":38,"dx":79.5,"dy":10.7,"baseline":"alphabetic","align":"center","color":"#000000"},"encoding":{"x":{"field":"from","type":"nominal","bandPosition":0.5,"scale":{"type":"band","domain":["PBS Vehicle","PBS TSA","Alternaria Vehicle","Alternaria TSA"],"paddingInner":0.333,"paddingOuter":0.16,"align":0.6}},"y":{"field":"level","type":"quantitative","scale":{"domain":[0,30],"nice":false}},"text":{"field":"label"}}},
{"data":{"name":"sig"},"transform":[{"filter":"datum.source === 'BAL fluid' && datum.cytokine === 'CCL11' && datum.from !== 'PBS Vehicle'"}],"mark":{"type":"text","font":"DejaVu Sans","fontSize":38,"dx":39.75,"dy":10.7,"baseline":"alphabetic","align":"center","color":"#000000"},"encoding":{"x":{"field":"from","type":"nominal","bandPosition":0.5,"scale":{"type":"band","domain":["PBS Vehicle","PBS TSA","Alternaria Vehicle","Alternaria TSA"],"paddingInner":0.333,"paddingOuter":0.16,"align":0.6}},"y":{"field":"level","type":"quantitative","scale":{"domain":[0,30],"nice":false}},"text":{"field":"label"}}}
]},
{"width":317,"height":212,
"layer":[
{"data":{"name":"bars"},"transform":[{"filter":"datum.source === 'Lung homogenate' && datum.cytokine === 'CCL11' && datum.group === 'Alternaria TSA'"}],"mark":{"type":"bar","size":53,"strokeWidth":0,"fill":{"gradient":"linear","x1":0,"y1":0,"x2":0.29967,"y2":1.19867,"stops":[{"offset":0,"color":"#000"},{"offset":0.0096,"color":"#fff"},{"offset":0.0274,"color":"#fff"},{"offset":0.037,"color":"#000"},{"offset":0.0467,"color":"#fff"},{"offset":0.0644,"color":"#fff"},{"offset":0.0741,"color":"#000"},{"offset":0.0837,"color":"#fff"},{"offset":0.1015,"color":"#fff"},{"offset":0.1111,"color":"#000"},{"offset":0.1207,"color":"#fff"},{"offset":0.1385,"color":"#fff"},{"offset":0.1481,"color":"#000"},{"offset":0.1578,"color":"#fff"},{"offset":0.1756,"color":"#fff"},{"offset":0.1852,"color":"#000"},{"offset":0.1948,"color":"#fff"},{"offset":0.2126,"color":"#fff"},{"offset":0.2222,"color":"#000"},{"offset":0.2319,"color":"#fff"},{"offset":0.2496,"color":"#fff"},{"offset":0.2593,"color":"#000"},{"offset":0.2689,"color":"#fff"},{"offset":0.2867,"color":"#fff"},{"offset":0.2963,"color":"#000"},{"offset":0.3059,"color":"#fff"},{"offset":0.3237,"color":"#fff"},{"offset":0.3333,"color":"#000"},{"offset":0.343,"color":"#fff"},{"offset":0.3607,"color":"#fff"},{"offset":0.3704,"color":"#000"},{"offset":0.38,"color":"#fff"},{"offset":0.3978,"color":"#fff"},{"offset":0.4074,"color":"#000"},{"offset":0.417,"color":"#fff"},{"offset":0.4348,"color":"#fff"},{"offset":0.4444,"color":"#000"},{"offset":0.4541,"color":"#fff"},{"offset":0.4719,"color":"#fff"},{"offset":0.4815,"color":"#000"},{"offset":0.4911,"color":"#fff"},{"offset":0.5089,"color":"#fff"},{"offset":0.5185,"color":"#000"},{"offset":0.5281,"color":"#fff"},{"offset":0.5459,"color":"#fff"},{"offset":0.5556,"color":"#000"},{"offset":0.5652,"color":"#fff"},{"offset":0.583,"color":"#fff"},{"offset":0.5926,"color":"#000"},{"offset":0.6022,"color":"#fff"},{"offset":0.62,"color":"#fff"},{"offset":0.6296,"color":"#000"},{"offset":0.6393,"color":"#fff"},{"offset":0.657,"color":"#fff"},{"offset":0.6667,"color":"#000"},{"offset":0.6763,"color":"#fff"},{"offset":0.6941,"color":"#fff"},{"offset":0.7037,"color":"#000"},{"offset":0.7133,"color":"#fff"},{"offset":0.7311,"color":"#fff"},{"offset":0.7407,"color":"#000"},{"offset":0.7504,"color":"#fff"},{"offset":0.7681,"color":"#fff"},{"offset":0.7778,"color":"#000"},{"offset":0.7874,"color":"#fff"},{"offset":0.8052,"color":"#fff"},{"offset":0.8148,"color":"#000"},{"offset":0.8244,"color":"#fff"},{"offset":0.8422,"color":"#fff"},{"offset":0.8519,"color":"#000"},{"offset":0.8615,"color":"#fff"},{"offset":0.8793,"color":"#fff"},{"offset":0.8889,"color":"#000"},{"offset":0.8985,"color":"#fff"},{"offset":0.9163,"color":"#fff"},{"offset":0.9259,"color":"#000"},{"offset":0.9356,"color":"#fff"},{"offset":0.9533,"color":"#fff"},{"offset":0.963,"color":"#000"},{"offset":0.9726,"color":"#fff"},{"offset":0.9904,"color":"#fff"},{"offset":1,"color":"#000"}]}},"encoding":{"x":{"field":"group","type":"nominal","scale":{"type":"band","domain":["PBS Vehicle","PBS TSA","Alternaria Vehicle","Alternaria TSA"],"paddingInner":0.333,"paddingOuter":0.16,"align":0.6}},"y":{"datum":5000,"type":"quantitative","scale":{"domain":[0,5000],"nice":false}},"y2":{"datum":0}}},
{"data":{"name":"bars"},"transform":[{"filter":"datum.source === 'Lung homogenate' && datum.cytokine === 'CCL11' && datum.group === 'Alternaria TSA'"}],"mark":{"type":"bar","fill":"#ffffff","size":57,"strokeWidth":0},"encoding":{"x":{"field":"group","type":"nominal","scale":{"type":"band","domain":["PBS Vehicle","PBS TSA","Alternaria Vehicle","Alternaria TSA"],"paddingInner":0.333,"paddingOuter":0.16,"align":0.6}},"y":{"field":"mean","type":"quantitative","scale":{"domain":[0,5000],"nice":false}},"y2":{"datum":5000}}},
{"data":{"name":"bars"},"transform":[{"filter":"datum.source === 'Lung homogenate' && datum.cytokine === 'CCL11'"}],"mark":{"type":"bar","size":53,"stroke":"#000000","strokeWidth":2},"encoding":{"x":{"field":"group","type":"nominal","scale":{"type":"band","domain":["PBS Vehicle","PBS TSA","Alternaria Vehicle","Alternaria TSA"],"paddingInner":0.333,"paddingOuter":0.16,"align":0.6},"axis":{"title":null,"labels":false,"ticks":false,"domainWidth":2.5}},"y":{"field":"mean","type":"quantitative","scale":{"domain":[0,5000],"nice":false},"axis":{"title":null,"values":[0,1000,2000,3000,4000,5000],"format":"d"}},"fill":{"field":"group","type":"nominal","scale":{"domain":["PBS Vehicle","PBS TSA","Alternaria Vehicle","Alternaria TSA"],"range":["#ffffff","#8c8c8c","#000000","transparent"]},"legend":null}}},
{"data":{"name":"bars"},"transform":[{"filter":"datum.source === 'Lung homogenate' && datum.cytokine === 'CCL11'"}],"mark":{"type":"rule","color":"#000000","strokeWidth":2},"encoding":{"x":{"field":"group","type":"nominal","scale":{"type":"band","domain":["PBS Vehicle","PBS TSA","Alternaria Vehicle","Alternaria TSA"],"paddingInner":0.333,"paddingOuter":0.16,"align":0.6}},"y":{"field":"mean","type":"quantitative","scale":{"domain":[0,5000],"nice":false}},"y2":{"field":"upper"}}},
{"data":{"name":"bars"},"transform":[{"filter":"datum.source === 'Lung homogenate' && datum.cytokine === 'CCL11'"}],"mark":{"type":"tick","color":"#000000","size":24,"thickness":2.5},"encoding":{"x":{"field":"group","type":"nominal","scale":{"type":"band","domain":["PBS Vehicle","PBS TSA","Alternaria Vehicle","Alternaria TSA"],"paddingInner":0.333,"paddingOuter":0.16,"align":0.6}},"y":{"field":"upper","type":"quantitative","scale":{"domain":[0,5000],"nice":false}}}},
{"data":{"name":"sig"},"transform":[{"filter":"datum.source === 'Lung homogenate' && datum.cytokine === 'CCL11'"}],"mark":{"type":"rule","color":"#000000","strokeWidth":3,"xOffset":7,"x2Offset":-3},"encoding":{"x":{"field":"from","type":"nominal","bandPosition":0.5,"scale":{"type":"band","domain":["PBS Vehicle","PBS TSA","Alternaria Vehicle","Alternaria TSA"],"paddingInner":0.333,"paddingOuter":0.16,"align":0.6}},"x2":{"field":"to"},"y":{"field":"level","type":"quantitative","scale":{"domain":[0,5000],"nice":false}}}},
{"data":{"name":"sig"},"transform":[{"filter":"datum.source === 'Lung homogenate' && datum.cytokine === 'CCL11' && datum.from === 'PBS Vehicle'"}],"mark":{"type":"text","font":"DejaVu Sans","fontSize":38,"dx":79.5,"dy":10.7,"baseline":"alphabetic","align":"center","color":"#000000"},"encoding":{"x":{"field":"from","type":"nominal","bandPosition":0.5,"scale":{"type":"band","domain":["PBS Vehicle","PBS TSA","Alternaria Vehicle","Alternaria TSA"],"paddingInner":0.333,"paddingOuter":0.16,"align":0.6}},"y":{"field":"level","type":"quantitative","scale":{"domain":[0,5000],"nice":false}},"text":{"field":"label"}}},
{"data":{"name":"sig"},"transform":[{"filter":"datum.source === 'Lung homogenate' && datum.cytokine === 'CCL11' && datum.from !== 'PBS Vehicle'"}],"mark":{"type":"text","font":"DejaVu Sans","fontSize":38,"dx":39.75,"dy":10.7,"baseline":"alphabetic","align":"center","color":"#000000"},"encoding":{"x":{"field":"from","type":"nominal","bandPosition":0.5,"scale":{"type":"band","domain":["PBS Vehicle","PBS TSA","Alternaria Vehicle","Alternaria TSA"],"paddingInner":0.333,"paddingOuter":0.16,"align":0.6}},"y":{"field":"level","type":"quantitative","scale":{"domain":[0,5000],"nice":false}},"text":{"field":"label"}}}
]},
{"width":317,"height":212,
"layer":[
{"data":{"name":"bars"},"transform":[{"filter":"datum.source === 'BAL fluid' && datum.cytokine === 'CCL24' && datum.group === 'Alternaria TSA'"}],"mark":{"type":"bar","size":53,"strokeWidth":0,"fill":{"gradient":"linear","x1":0,"y1":0,"x2":0.29967,"y2":1.19867,"stops":[{"offset":0,"color":"#000"},{"offset":0.0096,"color":"#fff"},{"offset":0.0274,"color":"#fff"},{"offset":0.037,"color":"#000"},{"offset":0.0467,"color":"#fff"},{"offset":0.0644,"color":"#fff"},{"offset":0.0741,"color":"#000"},{"offset":0.0837,"color":"#fff"},{"offset":0.1015,"color":"#fff"},{"offset":0.1111,"color":"#000"},{"offset":0.1207,"color":"#fff"},{"offset":0.1385,"color":"#fff"},{"offset":0.1481,"color":"#000"},{"offset":0.1578,"color":"#fff"},{"offset":0.1756,"color":"#fff"},{"offset":0.1852,"color":"#000"},{"offset":0.1948,"color":"#fff"},{"offset":0.2126,"color":"#fff"},{"offset":0.2222,"color":"#000"},{"offset":0.2319,"color":"#fff"},{"offset":0.2496,"color":"#fff"},{"offset":0.2593,"color":"#000"},{"offset":0.2689,"color":"#fff"},{"offset":0.2867,"color":"#fff"},{"offset":0.2963,"color":"#000"},{"offset":0.3059,"color":"#fff"},{"offset":0.3237,"color":"#fff"},{"offset":0.3333,"color":"#000"},{"offset":0.343,"color":"#fff"},{"offset":0.3607,"color":"#fff"},{"offset":0.3704,"color":"#000"},{"offset":0.38,"color":"#fff"},{"offset":0.3978,"color":"#fff"},{"offset":0.4074,"color":"#000"},{"offset":0.417,"color":"#fff"},{"offset":0.4348,"color":"#fff"},{"offset":0.4444,"color":"#000"},{"offset":0.4541,"color":"#fff"},{"offset":0.4719,"color":"#fff"},{"offset":0.4815,"color":"#000"},{"offset":0.4911,"color":"#fff"},{"offset":0.5089,"color":"#fff"},{"offset":0.5185,"color":"#000"},{"offset":0.5281,"color":"#fff"},{"offset":0.5459,"color":"#fff"},{"offset":0.5556,"color":"#000"},{"offset":0.5652,"color":"#fff"},{"offset":0.583,"color":"#fff"},{"offset":0.5926,"color":"#000"},{"offset":0.6022,"color":"#fff"},{"offset":0.62,"color":"#fff"},{"offset":0.6296,"color":"#000"},{"offset":0.6393,"color":"#fff"},{"offset":0.657,"color":"#fff"},{"offset":0.6667,"color":"#000"},{"offset":0.6763,"color":"#fff"},{"offset":0.6941,"color":"#fff"},{"offset":0.7037,"color":"#000"},{"offset":0.7133,"color":"#fff"},{"offset":0.7311,"color":"#fff"},{"offset":0.7407,"color":"#000"},{"offset":0.7504,"color":"#fff"},{"offset":0.7681,"color":"#fff"},{"offset":0.7778,"color":"#000"},{"offset":0.7874,"color":"#fff"},{"offset":0.8052,"color":"#fff"},{"offset":0.8148,"color":"#000"},{"offset":0.8244,"color":"#fff"},{"offset":0.8422,"color":"#fff"},{"offset":0.8519,"color":"#000"},{"offset":0.8615,"color":"#fff"},{"offset":0.8793,"color":"#fff"},{"offset":0.8889,"color":"#000"},{"offset":0.8985,"color":"#fff"},{"offset":0.9163,"color":"#fff"},{"offset":0.9259,"color":"#000"},{"offset":0.9356,"color":"#fff"},{"offset":0.9533,"color":"#fff"},{"offset":0.963,"color":"#000"},{"offset":0.9726,"color":"#fff"},{"offset":0.9904,"color":"#fff"},{"offset":1,"color":"#000"}]}},"encoding":{"x":{"field":"group","type":"nominal","scale":{"type":"band","domain":["PBS Vehicle","PBS TSA","Alternaria Vehicle","Alternaria TSA"],"paddingInner":0.333,"paddingOuter":0.16,"align":0.6}},"y":{"datum":1500,"type":"quantitative","scale":{"domain":[0,1500],"nice":false}},"y2":{"datum":0}}},
{"data":{"name":"bars"},"transform":[{"filter":"datum.source === 'BAL fluid' && datum.cytokine === 'CCL24' && datum.group === 'Alternaria TSA'"}],"mark":{"type":"bar","fill":"#ffffff","size":57,"strokeWidth":0},"encoding":{"x":{"field":"group","type":"nominal","scale":{"type":"band","domain":["PBS Vehicle","PBS TSA","Alternaria Vehicle","Alternaria TSA"],"paddingInner":0.333,"paddingOuter":0.16,"align":0.6}},"y":{"field":"mean","type":"quantitative","scale":{"domain":[0,1500],"nice":false}},"y2":{"datum":1500}}},
{"data":{"name":"bars"},"transform":[{"filter":"datum.source === 'BAL fluid' && datum.cytokine === 'CCL24'"}],"mark":{"type":"bar","size":53,"stroke":"#000000","strokeWidth":2},"encoding":{"x":{"field":"group","type":"nominal","scale":{"type":"band","domain":["PBS Vehicle","PBS TSA","Alternaria Vehicle","Alternaria TSA"],"paddingInner":0.333,"paddingOuter":0.16,"align":0.6},"axis":{"title":null,"labels":false,"ticks":false,"domainWidth":2.5}},"y":{"field":"mean","type":"quantitative","scale":{"domain":[0,1500],"nice":false},"axis":{"title":"CCL24 (pg/mL)","values":[0,500,1000,1500],"format":"d","titlePadding":10.4}},"fill":{"field":"group","type":"nominal","scale":{"domain":["PBS Vehicle","PBS TSA","Alternaria Vehicle","Alternaria TSA"],"range":["#ffffff","#8c8c8c","#000000","transparent"]},"legend":null}}},
{"data":{"name":"bars"},"transform":[{"filter":"datum.source === 'BAL fluid' && datum.cytokine === 'CCL24'"}],"mark":{"type":"rule","color":"#000000","strokeWidth":2},"encoding":{"x":{"field":"group","type":"nominal","scale":{"type":"band","domain":["PBS Vehicle","PBS TSA","Alternaria Vehicle","Alternaria TSA"],"paddingInner":0.333,"paddingOuter":0.16,"align":0.6}},"y":{"field":"mean","type":"quantitative","scale":{"domain":[0,1500],"nice":false}},"y2":{"field":"upper"}}},
{"data":{"name":"bars"},"transform":[{"filter":"datum.source === 'BAL fluid' && datum.cytokine === 'CCL24'"}],"mark":{"type":"tick","color":"#000000","size":24,"thickness":2.5},"encoding":{"x":{"field":"group","type":"nominal","scale":{"type":"band","domain":["PBS Vehicle","PBS TSA","Alternaria Vehicle","Alternaria TSA"],"paddingInner":0.333,"paddingOuter":0.16,"align":0.6}},"y":{"field":"upper","type":"quantitative","scale":{"domain":[0,1500],"nice":false}}}},
{"data":{"name":"sig"},"transform":[{"filter":"datum.source === 'BAL fluid' && datum.cytokine === 'CCL24'"}],"mark":{"type":"rule","color":"#000000","strokeWidth":3,"xOffset":7,"x2Offset":-3},"encoding":{"x":{"field":"from","type":"nominal","bandPosition":0.5,"scale":{"type":"band","domain":["PBS Vehicle","PBS TSA","Alternaria Vehicle","Alternaria TSA"],"paddingInner":0.333,"paddingOuter":0.16,"align":0.6}},"x2":{"field":"to"},"y":{"field":"level","type":"quantitative","scale":{"domain":[0,1500],"nice":false}}}},
{"data":{"name":"sig"},"transform":[{"filter":"datum.source === 'BAL fluid' && datum.cytokine === 'CCL24' && datum.from === 'PBS Vehicle'"}],"mark":{"type":"text","font":"DejaVu Sans","fontSize":38,"dx":79.5,"dy":10.7,"baseline":"alphabetic","align":"center","color":"#000000"},"encoding":{"x":{"field":"from","type":"nominal","bandPosition":0.5,"scale":{"type":"band","domain":["PBS Vehicle","PBS TSA","Alternaria Vehicle","Alternaria TSA"],"paddingInner":0.333,"paddingOuter":0.16,"align":0.6}},"y":{"field":"level","type":"quantitative","scale":{"domain":[0,1500],"nice":false}},"text":{"field":"label"}}},
{"data":{"name":"sig"},"transform":[{"filter":"datum.source === 'BAL fluid' && datum.cytokine === 'CCL24' && datum.from !== 'PBS Vehicle'"}],"mark":{"type":"text","font":"DejaVu Sans","fontSize":38,"dx":39.75,"dy":10.7,"baseline":"alphabetic","align":"center","color":"#000000"},"encoding":{"x":{"field":"from","type":"nominal","bandPosition":0.5,"scale":{"type":"band","domain":["PBS Vehicle","PBS TSA","Alternaria Vehicle","Alternaria TSA"],"paddingInner":0.333,"paddingOuter":0.16,"align":0.6}},"y":{"field":"level","type":"quantitative","scale":{"domain":[0,1500],"nice":false}},"text":{"field":"label"}}}
]},
{"width":317,"height":212,
"layer":[
{"data":{"name":"bars"},"transform":[{"filter":"datum.source === 'Lung homogenate' && datum.cytokine === 'CCL24' && datum.group === 'Alternaria TSA'"}],"mark":{"type":"bar","size":53,"strokeWidth":0,"fill":{"gradient":"linear","x1":0,"y1":0,"x2":0.29967,"y2":1.19867,"stops":[{"offset":0,"color":"#000"},{"offset":0.0096,"color":"#fff"},{"offset":0.0274,"color":"#fff"},{"offset":0.037,"color":"#000"},{"offset":0.0467,"color":"#fff"},{"offset":0.0644,"color":"#fff"},{"offset":0.0741,"color":"#000"},{"offset":0.0837,"color":"#fff"},{"offset":0.1015,"color":"#fff"},{"offset":0.1111,"color":"#000"},{"offset":0.1207,"color":"#fff"},{"offset":0.1385,"color":"#fff"},{"offset":0.1481,"color":"#000"},{"offset":0.1578,"color":"#fff"},{"offset":0.1756,"color":"#fff"},{"offset":0.1852,"color":"#000"},{"offset":0.1948,"color":"#fff"},{"offset":0.2126,"color":"#fff"},{"offset":0.2222,"color":"#000"},{"offset":0.2319,"color":"#fff"},{"offset":0.2496,"color":"#fff"},{"offset":0.2593,"color":"#000"},{"offset":0.2689,"color":"#fff"},{"offset":0.2867,"color":"#fff"},{"offset":0.2963,"color":"#000"},{"offset":0.3059,"color":"#fff"},{"offset":0.3237,"color":"#fff"},{"offset":0.3333,"color":"#000"},{"offset":0.343,"color":"#fff"},{"offset":0.3607,"color":"#fff"},{"offset":0.3704,"color":"#000"},{"offset":0.38,"color":"#fff"},{"offset":0.3978,"color":"#fff"},{"offset":0.4074,"color":"#000"},{"offset":0.417,"color":"#fff"},{"offset":0.4348,"color":"#fff"},{"offset":0.4444,"color":"#000"},{"offset":0.4541,"color":"#fff"},{"offset":0.4719,"color":"#fff"},{"offset":0.4815,"color":"#000"},{"offset":0.4911,"color":"#fff"},{"offset":0.5089,"color":"#fff"},{"offset":0.5185,"color":"#000"},{"offset":0.5281,"color":"#fff"},{"offset":0.5459,"color":"#fff"},{"offset":0.5556,"color":"#000"},{"offset":0.5652,"color":"#fff"},{"offset":0.583,"color":"#fff"},{"offset":0.5926,"color":"#000"},{"offset":0.6022,"color":"#fff"},{"offset":0.62,"color":"#fff"},{"offset":0.6296,"color":"#000"},{"offset":0.6393,"color":"#fff"},{"offset":0.657,"color":"#fff"},{"offset":0.6667,"color":"#000"},{"offset":0.6763,"color":"#fff"},{"offset":0.6941,"color":"#fff"},{"offset":0.7037,"color":"#000"},{"offset":0.7133,"color":"#fff"},{"offset":0.7311,"color":"#fff"},{"offset":0.7407,"color":"#000"},{"offset":0.7504,"color":"#fff"},{"offset":0.7681,"color":"#fff"},{"offset":0.7778,"color":"#000"},{"offset":0.7874,"color":"#fff"},{"offset":0.8052,"color":"#fff"},{"offset":0.8148,"color":"#000"},{"offset":0.8244,"color":"#fff"},{"offset":0.8422,"color":"#fff"},{"offset":0.8519,"color":"#000"},{"offset":0.8615,"color":"#fff"},{"offset":0.8793,"color":"#fff"},{"offset":0.8889,"color":"#000"},{"offset":0.8985,"color":"#fff"},{"offset":0.9163,"color":"#fff"},{"offset":0.9259,"color":"#000"},{"offset":0.9356,"color":"#fff"},{"offset":0.9533,"color":"#fff"},{"offset":0.963,"color":"#000"},{"offset":0.9726,"color":"#fff"},{"offset":0.9904,"color":"#fff"},{"offset":1,"color":"#000"}]}},"encoding":{"x":{"field":"group","type":"nominal","scale":{"type":"band","domain":["PBS Vehicle","PBS TSA","Alternaria Vehicle","Alternaria TSA"],"paddingInner":0.333,"paddingOuter":0.16,"align":0.6}},"y":{"datum":10000,"type":"quantitative","scale":{"domain":[0,10000],"nice":false}},"y2":{"datum":0}}},
{"data":{"name":"bars"},"transform":[{"filter":"datum.source === 'Lung homogenate' && datum.cytokine === 'CCL24' && datum.group === 'Alternaria TSA'"}],"mark":{"type":"bar","fill":"#ffffff","size":57,"strokeWidth":0},"encoding":{"x":{"field":"group","type":"nominal","scale":{"type":"band","domain":["PBS Vehicle","PBS TSA","Alternaria Vehicle","Alternaria TSA"],"paddingInner":0.333,"paddingOuter":0.16,"align":0.6}},"y":{"field":"mean","type":"quantitative","scale":{"domain":[0,10000],"nice":false}},"y2":{"datum":10000}}},
{"data":{"name":"bars"},"transform":[{"filter":"datum.source === 'Lung homogenate' && datum.cytokine === 'CCL24'"}],"mark":{"type":"bar","size":53,"stroke":"#000000","strokeWidth":2},"encoding":{"x":{"field":"group","type":"nominal","scale":{"type":"band","domain":["PBS Vehicle","PBS TSA","Alternaria Vehicle","Alternaria TSA"],"paddingInner":0.333,"paddingOuter":0.16,"align":0.6},"axis":{"title":null,"labels":false,"ticks":false,"domainWidth":2.5}},"y":{"field":"mean","type":"quantitative","scale":{"domain":[0,10000],"nice":false},"axis":{"title":null,"values":[0,2000,4000,6000,8000,10000],"format":"d"}},"fill":{"field":"group","type":"nominal","scale":{"domain":["PBS Vehicle","PBS TSA","Alternaria Vehicle","Alternaria TSA"],"range":["#ffffff","#8c8c8c","#000000","transparent"]},"legend":null}}},
{"data":{"name":"bars"},"transform":[{"filter":"datum.source === 'Lung homogenate' && datum.cytokine === 'CCL24'"}],"mark":{"type":"rule","color":"#000000","strokeWidth":2},"encoding":{"x":{"field":"group","type":"nominal","scale":{"type":"band","domain":["PBS Vehicle","PBS TSA","Alternaria Vehicle","Alternaria TSA"],"paddingInner":0.333,"paddingOuter":0.16,"align":0.6}},"y":{"field":"mean","type":"quantitative","scale":{"domain":[0,10000],"nice":false}},"y2":{"field":"upper"}}},
{"data":{"name":"bars"},"transform":[{"filter":"datum.source === 'Lung homogenate' && datum.cytokine === 'CCL24'"}],"mark":{"type":"tick","color":"#000000","size":24,"thickness":2.5},"encoding":{"x":{"field":"group","type":"nominal","scale":{"type":"band","domain":["PBS Vehicle","PBS TSA","Alternaria Vehicle","Alternaria TSA"],"paddingInner":0.333,"paddingOuter":0.16,"align":0.6}},"y":{"field":"upper","type":"quantitative","scale":{"domain":[0,10000],"nice":false}}}},
{"data":{"name":"sig"},"transform":[{"filter":"datum.source === 'Lung homogenate' && datum.cytokine === 'CCL24'"}],"mark":{"type":"rule","color":"#000000","strokeWidth":3,"xOffset":7,"x2Offset":-3},"encoding":{"x":{"field":"from","type":"nominal","bandPosition":0.5,"scale":{"type":"band","domain":["PBS Vehicle","PBS TSA","Alternaria Vehicle","Alternaria TSA"],"paddingInner":0.333,"paddingOuter":0.16,"align":0.6}},"x2":{"field":"to"},"y":{"field":"level","type":"quantitative","scale":{"domain":[0,10000],"nice":false}}}},
{"data":{"name":"sig"},"transform":[{"filter":"datum.source === 'Lung homogenate' && datum.cytokine === 'CCL24' && datum.from === 'PBS Vehicle'"}],"mark":{"type":"text","font":"DejaVu Sans","fontSize":38,"dx":79.5,"dy":10.7,"baseline":"alphabetic","align":"center","color":"#000000"},"encoding":{"x":{"field":"from","type":"nominal","bandPosition":0.5,"scale":{"type":"band","domain":["PBS Vehicle","PBS TSA","Alternaria Vehicle","Alternaria TSA"],"paddingInner":0.333,"paddingOuter":0.16,"align":0.6}},"y":{"field":"level","type":"quantitative","scale":{"domain":[0,10000],"nice":false}},"text":{"field":"label"}}},
{"data":{"name":"sig"},"transform":[{"filter":"datum.source === 'Lung homogenate' && datum.cytokine === 'CCL24' && datum.from !== 'PBS Vehicle'"}],"mark":{"type":"text","font":"DejaVu Sans","fontSize":38,"dx":39.75,"dy":10.7,"baseline":"alphabetic","align":"center","color":"#000000"},"encoding":{"x":{"field":"from","type":"nominal","bandPosition":0.5,"scale":{"type":"band","domain":["PBS Vehicle","PBS TSA","Alternaria Vehicle","Alternaria TSA"],"paddingInner":0.333,"paddingOuter":0.16,"align":0.6}},"y":{"field":"level","type":"quantitative","scale":{"domain":[0,10000],"nice":false}},"text":{"field":"label"}}}
]},
{"width":317,"height":212,
"layer":[
{"data":{"name":"bars"},"transform":[{"filter":"datum.source === 'BAL fluid' && datum.cytokine === 'CCL17' && datum.group === 'Alternaria TSA'"}],"mark":{"type":"bar","size":53,"strokeWidth":0,"fill":{"gradient":"linear","x1":0,"y1":0,"x2":0.29967,"y2":1.19867,"stops":[{"offset":0,"color":"#000"},{"offset":0.0096,"color":"#fff"},{"offset":0.0274,"color":"#fff"},{"offset":0.037,"color":"#000"},{"offset":0.0467,"color":"#fff"},{"offset":0.0644,"color":"#fff"},{"offset":0.0741,"color":"#000"},{"offset":0.0837,"color":"#fff"},{"offset":0.1015,"color":"#fff"},{"offset":0.1111,"color":"#000"},{"offset":0.1207,"color":"#fff"},{"offset":0.1385,"color":"#fff"},{"offset":0.1481,"color":"#000"},{"offset":0.1578,"color":"#fff"},{"offset":0.1756,"color":"#fff"},{"offset":0.1852,"color":"#000"},{"offset":0.1948,"color":"#fff"},{"offset":0.2126,"color":"#fff"},{"offset":0.2222,"color":"#000"},{"offset":0.2319,"color":"#fff"},{"offset":0.2496,"color":"#fff"},{"offset":0.2593,"color":"#000"},{"offset":0.2689,"color":"#fff"},{"offset":0.2867,"color":"#fff"},{"offset":0.2963,"color":"#000"},{"offset":0.3059,"color":"#fff"},{"offset":0.3237,"color":"#fff"},{"offset":0.3333,"color":"#000"},{"offset":0.343,"color":"#fff"},{"offset":0.3607,"color":"#fff"},{"offset":0.3704,"color":"#000"},{"offset":0.38,"color":"#fff"},{"offset":0.3978,"color":"#fff"},{"offset":0.4074,"color":"#000"},{"offset":0.417,"color":"#fff"},{"offset":0.4348,"color":"#fff"},{"offset":0.4444,"color":"#000"},{"offset":0.4541,"color":"#fff"},{"offset":0.4719,"color":"#fff"},{"offset":0.4815,"color":"#000"},{"offset":0.4911,"color":"#fff"},{"offset":0.5089,"color":"#fff"},{"offset":0.5185,"color":"#000"},{"offset":0.5281,"color":"#fff"},{"offset":0.5459,"color":"#fff"},{"offset":0.5556,"color":"#000"},{"offset":0.5652,"color":"#fff"},{"offset":0.583,"color":"#fff"},{"offset":0.5926,"color":"#000"},{"offset":0.6022,"color":"#fff"},{"offset":0.62,"color":"#fff"},{"offset":0.6296,"color":"#000"},{"offset":0.6393,"color":"#fff"},{"offset":0.657,"color":"#fff"},{"offset":0.6667,"color":"#000"},{"offset":0.6763,"color":"#fff"},{"offset":0.6941,"color":"#fff"},{"offset":0.7037,"color":"#000"},{"offset":0.7133,"color":"#fff"},{"offset":0.7311,"color":"#fff"},{"offset":0.7407,"color":"#000"},{"offset":0.7504,"color":"#fff"},{"offset":0.7681,"color":"#fff"},{"offset":0.7778,"color":"#000"},{"offset":0.7874,"color":"#fff"},{"offset":0.8052,"color":"#fff"},{"offset":0.8148,"color":"#000"},{"offset":0.8244,"color":"#fff"},{"offset":0.8422,"color":"#fff"},{"offset":0.8519,"color":"#000"},{"offset":0.8615,"color":"#fff"},{"offset":0.8793,"color":"#fff"},{"offset":0.8889,"color":"#000"},{"offset":0.8985,"color":"#fff"},{"offset":0.9163,"color":"#fff"},{"offset":0.9259,"color":"#000"},{"offset":0.9356,"color":"#fff"},{"offset":0.9533,"color":"#fff"},{"offset":0.963,"color":"#000"},{"offset":0.9726,"color":"#fff"},{"offset":0.9904,"color":"#fff"},{"offset":1,"color":"#000"}]}},"encoding":{"x":{"field":"group","type":"nominal","scale":{"type":"band","domain":["PBS Vehicle","PBS TSA","Alternaria Vehicle","Alternaria TSA"],"paddingInner":0.333,"paddingOuter":0.16,"align":0.6}},"y":{"datum":2000,"type":"quantitative","scale":{"domain":[0,2000],"nice":false}},"y2":{"datum":0}}},
{"data":{"name":"bars"},"transform":[{"filter":"datum.source === 'BAL fluid' && datum.cytokine === 'CCL17' && datum.group === 'Alternaria TSA'"}],"mark":{"type":"bar","fill":"#ffffff","size":57,"strokeWidth":0},"encoding":{"x":{"field":"group","type":"nominal","scale":{"type":"band","domain":["PBS Vehicle","PBS TSA","Alternaria Vehicle","Alternaria TSA"],"paddingInner":0.333,"paddingOuter":0.16,"align":0.6}},"y":{"field":"mean","type":"quantitative","scale":{"domain":[0,2000],"nice":false}},"y2":{"datum":2000}}},
{"data":{"name":"bars"},"transform":[{"filter":"datum.source === 'BAL fluid' && datum.cytokine === 'CCL17'"}],"mark":{"type":"bar","size":53,"stroke":"#000000","strokeWidth":2},"encoding":{"x":{"field":"group","type":"nominal","scale":{"type":"band","domain":["PBS Vehicle","PBS TSA","Alternaria Vehicle","Alternaria TSA"],"paddingInner":0.333,"paddingOuter":0.16,"align":0.6},"axis":{"title":null,"labels":false,"ticks":false,"domainWidth":2.5}},"y":{"field":"mean","type":"quantitative","scale":{"domain":[0,2000],"nice":false},"axis":{"title":"CCL17 (pg/mL)","values":[0,500,1000,1500,2000],"format":"d","titlePadding":10.4}},"fill":{"field":"group","type":"nominal","scale":{"domain":["PBS Vehicle","PBS TSA","Alternaria Vehicle","Alternaria TSA"],"range":["#ffffff","#8c8c8c","#000000","transparent"]},"legend":null}}},
{"data":{"name":"bars"},"transform":[{"filter":"datum.source === 'BAL fluid' && datum.cytokine === 'CCL17'"}],"mark":{"type":"rule","color":"#000000","strokeWidth":2},"encoding":{"x":{"field":"group","type":"nominal","scale":{"type":"band","domain":["PBS Vehicle","PBS TSA","Alternaria Vehicle","Alternaria TSA"],"paddingInner":0.333,"paddingOuter":0.16,"align":0.6}},"y":{"field":"mean","type":"quantitative","scale":{"domain":[0,2000],"nice":false}},"y2":{"field":"upper"}}},
{"data":{"name":"bars"},"transform":[{"filter":"datum.source === 'BAL fluid' && datum.cytokine === 'CCL17'"}],"mark":{"type":"tick","color":"#000000","size":24,"thickness":2.5},"encoding":{"x":{"field":"group","type":"nominal","scale":{"type":"band","domain":["PBS Vehicle","PBS TSA","Alternaria Vehicle","Alternaria TSA"],"paddingInner":0.333,"paddingOuter":0.16,"align":0.6}},"y":{"field":"upper","type":"quantitative","scale":{"domain":[0,2000],"nice":false}}}},
{"data":{"name":"sig"},"transform":[{"filter":"datum.source === 'BAL fluid' && datum.cytokine === 'CCL17'"}],"mark":{"type":"rule","color":"#000000","strokeWidth":3,"xOffset":7,"x2Offset":-3},"encoding":{"x":{"field":"from","type":"nominal","bandPosition":0.5,"scale":{"type":"band","domain":["PBS Vehicle","PBS TSA","Alternaria Vehicle","Alternaria TSA"],"paddingInner":0.333,"paddingOuter":0.16,"align":0.6}},"x2":{"field":"to"},"y":{"field":"level","type":"quantitative","scale":{"domain":[0,2000],"nice":false}}}},
{"data":{"name":"sig"},"transform":[{"filter":"datum.source === 'BAL fluid' && datum.cytokine === 'CCL17' && datum.from === 'PBS Vehicle'"}],"mark":{"type":"text","font":"DejaVu Sans","fontSize":38,"dx":79.5,"dy":10.7,"baseline":"alphabetic","align":"center","color":"#000000"},"encoding":{"x":{"field":"from","type":"nominal","bandPosition":0.5,"scale":{"type":"band","domain":["PBS Vehicle","PBS TSA","Alternaria Vehicle","Alternaria TSA"],"paddingInner":0.333,"paddingOuter":0.16,"align":0.6}},"y":{"field":"level","type":"quantitative","scale":{"domain":[0,2000],"nice":false}},"text":{"field":"label"}}},
{"data":{"name":"sig"},"transform":[{"filter":"datum.source === 'BAL fluid' && datum.cytokine === 'CCL17' && datum.from !== 'PBS Vehicle'"}],"mark":{"type":"text","font":"DejaVu Sans","fontSize":38,"dx":39.75,"dy":10.7,"baseline":"alphabetic","align":"center","color":"#000000"},"encoding":{"x":{"field":"from","type":"nominal","bandPosition":0.5,"scale":{"type":"band","domain":["PBS Vehicle","PBS TSA","Alternaria Vehicle","Alternaria TSA"],"paddingInner":0.333,"paddingOuter":0.16,"align":0.6}},"y":{"field":"level","type":"quantitative","scale":{"domain":[0,2000],"nice":false}},"text":{"field":"label"}}}
]},
{"width":317,"height":212,
"layer":[
{"data":{"name":"bars"},"transform":[{"filter":"datum.source === 'Lung homogenate' && datum.cytokine === 'CCL17' && datum.group === 'Alternaria TSA'"}],"mark":{"type":"bar","size":53,"strokeWidth":0,"fill":{"gradient":"linear","x1":0,"y1":0,"x2":0.29967,"y2":1.19867,"stops":[{"offset":0,"color":"#000"},{"offset":0.0096,"color":"#fff"},{"offset":0.0274,"color":"#fff"},{"offset":0.037,"color":"#000"},{"offset":0.0467,"color":"#fff"},{"offset":0.0644,"color":"#fff"},{"offset":0.0741,"color":"#000"},{"offset":0.0837,"color":"#fff"},{"offset":0.1015,"color":"#fff"},{"offset":0.1111,"color":"#000"},{"offset":0.1207,"color":"#fff"},{"offset":0.1385,"color":"#fff"},{"offset":0.1481,"color":"#000"},{"offset":0.1578,"color":"#fff"},{"offset":0.1756,"color":"#fff"},{"offset":0.1852,"color":"#000"},{"offset":0.1948,"color":"#fff"},{"offset":0.2126,"color":"#fff"},{"offset":0.2222,"color":"#000"},{"offset":0.2319,"color":"#fff"},{"offset":0.2496,"color":"#fff"},{"offset":0.2593,"color":"#000"},{"offset":0.2689,"color":"#fff"},{"offset":0.2867,"color":"#fff"},{"offset":0.2963,"color":"#000"},{"offset":0.3059,"color":"#fff"},{"offset":0.3237,"color":"#fff"},{"offset":0.3333,"color":"#000"},{"offset":0.343,"color":"#fff"},{"offset":0.3607,"color":"#fff"},{"offset":0.3704,"color":"#000"},{"offset":0.38,"color":"#fff"},{"offset":0.3978,"color":"#fff"},{"offset":0.4074,"color":"#000"},{"offset":0.417,"color":"#fff"},{"offset":0.4348,"color":"#fff"},{"offset":0.4444,"color":"#000"},{"offset":0.4541,"color":"#fff"},{"offset":0.4719,"color":"#fff"},{"offset":0.4815,"color":"#000"},{"offset":0.4911,"color":"#fff"},{"offset":0.5089,"color":"#fff"},{"offset":0.5185,"color":"#000"},{"offset":0.5281,"color":"#fff"},{"offset":0.5459,"color":"#fff"},{"offset":0.5556,"color":"#000"},{"offset":0.5652,"color":"#fff"},{"offset":0.583,"color":"#fff"},{"offset":0.5926,"color":"#000"},{"offset":0.6022,"color":"#fff"},{"offset":0.62,"color":"#fff"},{"offset":0.6296,"color":"#000"},{"offset":0.6393,"color":"#fff"},{"offset":0.657,"color":"#fff"},{"offset":0.6667,"color":"#000"},{"offset":0.6763,"color":"#fff"},{"offset":0.6941,"color":"#fff"},{"offset":0.7037,"color":"#000"},{"offset":0.7133,"color":"#fff"},{"offset":0.7311,"color":"#fff"},{"offset":0.7407,"color":"#000"},{"offset":0.7504,"color":"#fff"},{"offset":0.7681,"color":"#fff"},{"offset":0.7778,"color":"#000"},{"offset":0.7874,"color":"#fff"},{"offset":0.8052,"color":"#fff"},{"offset":0.8148,"color":"#000"},{"offset":0.8244,"color":"#fff"},{"offset":0.8422,"color":"#fff"},{"offset":0.8519,"color":"#000"},{"offset":0.8615,"color":"#fff"},{"offset":0.8793,"color":"#fff"},{"offset":0.8889,"color":"#000"},{"offset":0.8985,"color":"#fff"},{"offset":0.9163,"color":"#fff"},{"offset":0.9259,"color":"#000"},{"offset":0.9356,"color":"#fff"},{"offset":0.9533,"color":"#fff"},{"offset":0.963,"color":"#000"},{"offset":0.9726,"color":"#fff"},{"offset":0.9904,"color":"#fff"},{"offset":1,"color":"#000"}]}},"encoding":{"x":{"field":"group","type":"nominal","scale":{"type":"band","domain":["PBS Vehicle","PBS TSA","Alternaria Vehicle","Alternaria TSA"],"paddingInner":0.333,"paddingOuter":0.16,"align":0.6}},"y":{"datum":1500,"type":"quantitative","scale":{"domain":[0,1500],"nice":false}},"y2":{"datum":0}}},
{"data":{"name":"bars"},"transform":[{"filter":"datum.source === 'Lung homogenate' && datum.cytokine === 'CCL17' && datum.group === 'Alternaria TSA'"}],"mark":{"type":"bar","fill":"#ffffff","size":57,"strokeWidth":0},"encoding":{"x":{"field":"group","type":"nominal","scale":{"type":"band","domain":["PBS Vehicle","PBS TSA","Alternaria Vehicle","Alternaria TSA"],"paddingInner":0.333,"paddingOuter":0.16,"align":0.6}},"y":{"field":"mean","type":"quantitative","scale":{"domain":[0,1500],"nice":false}},"y2":{"datum":1500}}},
{"data":{"name":"bars"},"transform":[{"filter":"datum.source === 'Lung homogenate' && datum.cytokine === 'CCL17'"}],"mark":{"type":"bar","size":53,"stroke":"#000000","strokeWidth":2},"encoding":{"x":{"field":"group","type":"nominal","scale":{"type":"band","domain":["PBS Vehicle","PBS TSA","Alternaria Vehicle","Alternaria TSA"],"paddingInner":0.333,"paddingOuter":0.16,"align":0.6},"axis":{"title":null,"labels":false,"ticks":false,"domainWidth":2.5}},"y":{"field":"mean","type":"quantitative","scale":{"domain":[0,1500],"nice":false},"axis":{"title":null,"values":[0,500,1000,1500],"format":"d"}},"fill":{"field":"group","type":"nominal","scale":{"domain":["PBS Vehicle","PBS TSA","Alternaria Vehicle","Alternaria TSA"],"range":["#ffffff","#8c8c8c","#000000","transparent"]},"legend":null}}},
{"data":{"name":"bars"},"transform":[{"filter":"datum.source === 'Lung homogenate' && datum.cytokine === 'CCL17'"}],"mark":{"type":"rule","color":"#000000","strokeWidth":2},"encoding":{"x":{"field":"group","type":"nominal","scale":{"type":"band","domain":["PBS Vehicle","PBS TSA","Alternaria Vehicle","Alternaria TSA"],"paddingInner":0.333,"paddingOuter":0.16,"align":0.6}},"y":{"field":"mean","type":"quantitative","scale":{"domain":[0,1500],"nice":false}},"y2":{"field":"upper"}}},
{"data":{"name":"bars"},"transform":[{"filter":"datum.source === 'Lung homogenate' && datum.cytokine === 'CCL17'"}],"mark":{"type":"tick","color":"#000000","size":24,"thickness":2.5},"encoding":{"x":{"field":"group","type":"nominal","scale":{"type":"band","domain":["PBS Vehicle","PBS TSA","Alternaria Vehicle","Alternaria TSA"],"paddingInner":0.333,"paddingOuter":0.16,"align":0.6}},"y":{"field":"upper","type":"quantitative","scale":{"domain":[0,1500],"nice":false}}}},
{"data":{"name":"sig"},"transform":[{"filter":"datum.source === 'Lung homogenate' && datum.cytokine === 'CCL17'"}],"mark":{"type":"rule","color":"#000000","strokeWidth":3,"xOffset":7,"x2Offset":-3},"encoding":{"x":{"field":"from","type":"nominal","bandPosition":0.5,"scale":{"type":"band","domain":["PBS Vehicle","PBS TSA","Alternaria Vehicle","Alternaria TSA"],"paddingInner":0.333,"paddingOuter":0.16,"align":0.6}},"x2":{"field":"to"},"y":{"field":"level","type":"quantitative","scale":{"domain":[0,1500],"nice":false}}}},
{"data":{"name":"sig"},"transform":[{"filter":"datum.source === 'Lung homogenate' && datum.cytokine === 'CCL17' && datum.from === 'PBS Vehicle'"}],"mark":{"type":"text","font":"DejaVu Sans","fontSize":38,"dx":79.5,"dy":10.7,"baseline":"alphabetic","align":"center","color":"#000000"},"encoding":{"x":{"field":"from","type":"nominal","bandPosition":0.5,"scale":{"type":"band","domain":["PBS Vehicle","PBS TSA","Alternaria Vehicle","Alternaria TSA"],"paddingInner":0.333,"paddingOuter":0.16,"align":0.6}},"y":{"field":"level","type":"quantitative","scale":{"domain":[0,1500],"nice":false}},"text":{"field":"label"}}},
{"data":{"name":"sig"},"transform":[{"filter":"datum.source === 'Lung homogenate' && datum.cytokine === 'CCL17' && datum.from !== 'PBS Vehicle'"}],"mark":{"type":"text","font":"DejaVu Sans","fontSize":38,"dx":39.75,"dy":10.7,"baseline":"alphabetic","align":"center","color":"#000000"},"encoding":{"x":{"field":"from","type":"nominal","bandPosition":0.5,"scale":{"type":"band","domain":["PBS Vehicle","PBS TSA","Alternaria Vehicle","Alternaria TSA"],"paddingInner":0.333,"paddingOuter":0.16,"align":0.6}},"y":{"field":"level","type":"quantitative","scale":{"domain":[0,1500],"nice":false}},"text":{"field":"label"}}}
]},
{"width":317,"height":212,
"layer":[
{"data":{"name":"bars"},"transform":[{"filter":"datum.source === 'BAL fluid' && datum.cytokine === 'CCL22' && datum.group === 'Alternaria TSA'"}],"mark":{"type":"bar","size":53,"strokeWidth":0,"fill":{"gradient":"linear","x1":0,"y1":0,"x2":0.29967,"y2":1.19867,"stops":[{"offset":0,"color":"#000"},{"offset":0.0096,"color":"#fff"},{"offset":0.0274,"color":"#fff"},{"offset":0.037,"color":"#000"},{"offset":0.0467,"color":"#fff"},{"offset":0.0644,"color":"#fff"},{"offset":0.0741,"color":"#000"},{"offset":0.0837,"color":"#fff"},{"offset":0.1015,"color":"#fff"},{"offset":0.1111,"color":"#000"},{"offset":0.1207,"color":"#fff"},{"offset":0.1385,"color":"#fff"},{"offset":0.1481,"color":"#000"},{"offset":0.1578,"color":"#fff"},{"offset":0.1756,"color":"#fff"},{"offset":0.1852,"color":"#000"},{"offset":0.1948,"color":"#fff"},{"offset":0.2126,"color":"#fff"},{"offset":0.2222,"color":"#000"},{"offset":0.2319,"color":"#fff"},{"offset":0.2496,"color":"#fff"},{"offset":0.2593,"color":"#000"},{"offset":0.2689,"color":"#fff"},{"offset":0.2867,"color":"#fff"},{"offset":0.2963,"color":"#000"},{"offset":0.3059,"color":"#fff"},{"offset":0.3237,"color":"#fff"},{"offset":0.3333,"color":"#000"},{"offset":0.343,"color":"#fff"},{"offset":0.3607,"color":"#fff"},{"offset":0.3704,"color":"#000"},{"offset":0.38,"color":"#fff"},{"offset":0.3978,"color":"#fff"},{"offset":0.4074,"color":"#000"},{"offset":0.417,"color":"#fff"},{"offset":0.4348,"color":"#fff"},{"offset":0.4444,"color":"#000"},{"offset":0.4541,"color":"#fff"},{"offset":0.4719,"color":"#fff"},{"offset":0.4815,"color":"#000"},{"offset":0.4911,"color":"#fff"},{"offset":0.5089,"color":"#fff"},{"offset":0.5185,"color":"#000"},{"offset":0.5281,"color":"#fff"},{"offset":0.5459,"color":"#fff"},{"offset":0.5556,"color":"#000"},{"offset":0.5652,"color":"#fff"},{"offset":0.583,"color":"#fff"},{"offset":0.5926,"color":"#000"},{"offset":0.6022,"color":"#fff"},{"offset":0.62,"color":"#fff"},{"offset":0.6296,"color":"#000"},{"offset":0.6393,"color":"#fff"},{"offset":0.657,"color":"#fff"},{"offset":0.6667,"color":"#000"},{"offset":0.6763,"color":"#fff"},{"offset":0.6941,"color":"#fff"},{"offset":0.7037,"color":"#000"},{"offset":0.7133,"color":"#fff"},{"offset":0.7311,"color":"#fff"},{"offset":0.7407,"color":"#000"},{"offset":0.7504,"color":"#fff"},{"offset":0.7681,"color":"#fff"},{"offset":0.7778,"color":"#000"},{"offset":0.7874,"color":"#fff"},{"offset":0.8052,"color":"#fff"},{"offset":0.8148,"color":"#000"},{"offset":0.8244,"color":"#fff"},{"offset":0.8422,"color":"#fff"},{"offset":0.8519,"color":"#000"},{"offset":0.8615,"color":"#fff"},{"offset":0.8793,"color":"#fff"},{"offset":0.8889,"color":"#000"},{"offset":0.8985,"color":"#fff"},{"offset":0.9163,"color":"#fff"},{"offset":0.9259,"color":"#000"},{"offset":0.9356,"color":"#fff"},{"offset":0.9533,"color":"#fff"},{"offset":0.963,"color":"#000"},{"offset":0.9726,"color":"#fff"},{"offset":0.9904,"color":"#fff"},{"offset":1,"color":"#000"}]}},"encoding":{"x":{"field":"group","type":"nominal","scale":{"type":"band","domain":["PBS Vehicle","PBS TSA","Alternaria Vehicle","Alternaria TSA"],"paddingInner":0.333,"paddingOuter":0.16,"align":0.6}},"y":{"datum":1000,"type":"quantitative","scale":{"domain":[0,1000],"nice":false}},"y2":{"datum":0}}},
{"data":{"name":"bars"},"transform":[{"filter":"datum.source === 'BAL fluid' && datum.cytokine === 'CCL22' && datum.group === 'Alternaria TSA'"}],"mark":{"type":"bar","fill":"#ffffff","size":57,"strokeWidth":0},"encoding":{"x":{"field":"group","type":"nominal","scale":{"type":"band","domain":["PBS Vehicle","PBS TSA","Alternaria Vehicle","Alternaria TSA"],"paddingInner":0.333,"paddingOuter":0.16,"align":0.6}},"y":{"field":"mean","type":"quantitative","scale":{"domain":[0,1000],"nice":false}},"y2":{"datum":1000}}},
{"data":{"name":"bars"},"transform":[{"filter":"datum.source === 'BAL fluid' && datum.cytokine === 'CCL22'"}],"mark":{"type":"bar","size":53,"stroke":"#000000","strokeWidth":2},"encoding":{"x":{"field":"group","type":"nominal","scale":{"type":"band","domain":["PBS Vehicle","PBS TSA","Alternaria Vehicle","Alternaria TSA"],"paddingInner":0.333,"paddingOuter":0.16,"align":0.6},"axis":{"title":null,"ticks":false,"domainWidth":2.5,"labelExpr":"split(datum.value, ' ')[1]","labelAngle":0,"labelFontSize":20,"labelPadding":19,"labelOverlap":false,"labelAlign":{"condition":{"test":"indexof(datum.value, 'Vehicle') >= 0","value":"right"},"value":"left"},"labelOffset":{"condition":{"test":"indexof(datum.value, 'Vehicle') >= 0","value":36},"value":-36}}},"y":{"field":"mean","type":"quantitative","scale":{"domain":[0,1000],"nice":false},"axis":{"title":"CCL22 (pg/mL)","values":[0,200,400,600,800,1000],"format":"d","titlePadding":10.4}},"fill":{"field":"group","type":"nominal","scale":{"domain":["PBS Vehicle","PBS TSA","Alternaria Vehicle","Alternaria TSA"],"range":["#ffffff","#8c8c8c","#000000","transparent"]},"legend":null}}},
{"data":{"name":"bars"},"transform":[{"filter":"datum.source === 'BAL fluid' && datum.cytokine === 'CCL22'"}],"mark":{"type":"rule","color":"#000000","strokeWidth":2},"encoding":{"x":{"field":"group","type":"nominal","scale":{"type":"band","domain":["PBS Vehicle","PBS TSA","Alternaria Vehicle","Alternaria TSA"],"paddingInner":0.333,"paddingOuter":0.16,"align":0.6}},"y":{"field":"mean","type":"quantitative","scale":{"domain":[0,1000],"nice":false}},"y2":{"field":"upper"}}},
{"data":{"name":"bars"},"transform":[{"filter":"datum.source === 'BAL fluid' && datum.cytokine === 'CCL22'"}],"mark":{"type":"tick","color":"#000000","size":24,"thickness":2.5},"encoding":{"x":{"field":"group","type":"nominal","scale":{"type":"band","domain":["PBS Vehicle","PBS TSA","Alternaria Vehicle","Alternaria TSA"],"paddingInner":0.333,"paddingOuter":0.16,"align":0.6}},"y":{"field":"upper","type":"quantitative","scale":{"domain":[0,1000],"nice":false}}}},
{"data":{"name":"sig"},"transform":[{"filter":"datum.source === 'BAL fluid' && datum.cytokine === 'CCL22'"}],"mark":{"type":"rule","color":"#000000","strokeWidth":3,"xOffset":7,"x2Offset":-3},"encoding":{"x":{"field":"from","type":"nominal","bandPosition":0.5,"scale":{"type":"band","domain":["PBS Vehicle","PBS TSA","Alternaria Vehicle","Alternaria TSA"],"paddingInner":0.333,"paddingOuter":0.16,"align":0.6}},"x2":{"field":"to"},"y":{"field":"level","type":"quantitative","scale":{"domain":[0,1000],"nice":false}}}},
{"data":{"name":"sig"},"transform":[{"filter":"datum.source === 'BAL fluid' && datum.cytokine === 'CCL22' && datum.from === 'PBS Vehicle'"}],"mark":{"type":"text","font":"DejaVu Sans","fontSize":38,"dx":79.5,"dy":10.7,"baseline":"alphabetic","align":"center","color":"#000000"},"encoding":{"x":{"field":"from","type":"nominal","bandPosition":0.5,"scale":{"type":"band","domain":["PBS Vehicle","PBS TSA","Alternaria Vehicle","Alternaria TSA"],"paddingInner":0.333,"paddingOuter":0.16,"align":0.6}},"y":{"field":"level","type":"quantitative","scale":{"domain":[0,1000],"nice":false}},"text":{"field":"label"}}},
{"data":{"name":"sig"},"transform":[{"filter":"datum.source === 'BAL fluid' && datum.cytokine === 'CCL22' && datum.from !== 'PBS Vehicle'"}],"mark":{"type":"text","font":"DejaVu Sans","fontSize":38,"dx":39.75,"dy":10.7,"baseline":"alphabetic","align":"center","color":"#000000"},"encoding":{"x":{"field":"from","type":"nominal","bandPosition":0.5,"scale":{"type":"band","domain":["PBS Vehicle","PBS TSA","Alternaria Vehicle","Alternaria TSA"],"paddingInner":0.333,"paddingOuter":0.16,"align":0.6}},"y":{"field":"level","type":"quantitative","scale":{"domain":[0,1000],"nice":false}},"text":{"field":"label"}}},
{"data":{"name":"groups"},"mark":{"type":"rule","color":"#000000","strokeWidth":3.5,"xOffset":-40,"x2Offset":25,"yOffset":55},"encoding":{"x":{"field":"from","type":"nominal","bandPosition":0.5,"scale":{"type":"band","domain":["PBS Vehicle","PBS TSA","Alternaria Vehicle","Alternaria TSA"],"paddingInner":0.333,"paddingOuter":0.16,"align":0.6}},"x2":{"field":"to"},"y":{"datum":0,"type":"quantitative","scale":{"domain":[0,1000],"nice":false}}}},
{"data":{"name":"groups"},"transform":[{"filter":"datum.name === 'PBS'"}],"mark":{"type":"text","font":"Liberation Sans","fontSize":23,"fontWeight":"bold","dx":5,"dy":84,"baseline":"alphabetic","align":"center","color":"#000000"},"encoding":{"x":{"field":"from","type":"nominal","bandPosition":1,"scale":{"type":"band","domain":["PBS Vehicle","PBS TSA","Alternaria Vehicle","Alternaria TSA"],"paddingInner":0.333,"paddingOuter":0.16,"align":0.6}},"y":{"datum":0,"type":"quantitative","scale":{"domain":[0,1000],"nice":false}},"text":{"field":"name"}}},
{"data":{"name":"groups"},"transform":[{"filter":"datum.name === 'Alternaria'"}],"mark":{"type":"text","font":"Liberation Sans","fontSize":23,"fontWeight":"bold","fontStyle":"italic","dx":5,"dy":84,"baseline":"alphabetic","align":"center","color":"#000000"},"encoding":{"x":{"field":"from","type":"nominal","bandPosition":1,"scale":{"type":"band","domain":["PBS Vehicle","PBS TSA","Alternaria Vehicle","Alternaria TSA"],"paddingInner":0.333,"paddingOuter":0.16,"align":0.6}},"y":{"datum":0,"type":"quantitative","scale":{"domain":[0,1000],"nice":false}},"text":{"field":"name"}}}
]},
{"width":317,"height":212,
"layer":[
{"data":{"name":"bars"},"transform":[{"filter":"datum.source === 'Lung homogenate' && datum.cytokine === 'CCL22' && datum.group === 'Alternaria TSA'"}],"mark":{"type":"bar","size":53,"strokeWidth":0,"fill":{"gradient":"linear","x1":0,"y1":0,"x2":0.29967,"y2":1.19867,"stops":[{"offset":0,"color":"#000"},{"offset":0.0096,"color":"#fff"},{"offset":0.0274,"color":"#fff"},{"offset":0.037,"color":"#000"},{"offset":0.0467,"color":"#fff"},{"offset":0.0644,"color":"#fff"},{"offset":0.0741,"color":"#000"},{"offset":0.0837,"color":"#fff"},{"offset":0.1015,"color":"#fff"},{"offset":0.1111,"color":"#000"},{"offset":0.1207,"color":"#fff"},{"offset":0.1385,"color":"#fff"},{"offset":0.1481,"color":"#000"},{"offset":0.1578,"color":"#fff"},{"offset":0.1756,"color":"#fff"},{"offset":0.1852,"color":"#000"},{"offset":0.1948,"color":"#fff"},{"offset":0.2126,"color":"#fff"},{"offset":0.2222,"color":"#000"},{"offset":0.2319,"color":"#fff"},{"offset":0.2496,"color":"#fff"},{"offset":0.2593,"color":"#000"},{"offset":0.2689,"color":"#fff"},{"offset":0.2867,"color":"#fff"},{"offset":0.2963,"color":"#000"},{"offset":0.3059,"color":"#fff"},{"offset":0.3237,"color":"#fff"},{"offset":0.3333,"color":"#000"},{"offset":0.343,"color":"#fff"},{"offset":0.3607,"color":"#fff"},{"offset":0.3704,"color":"#000"},{"offset":0.38,"color":"#fff"},{"offset":0.3978,"color":"#fff"},{"offset":0.4074,"color":"#000"},{"offset":0.417,"color":"#fff"},{"offset":0.4348,"color":"#fff"},{"offset":0.4444,"color":"#000"},{"offset":0.4541,"color":"#fff"},{"offset":0.4719,"color":"#fff"},{"offset":0.4815,"color":"#000"},{"offset":0.4911,"color":"#fff"},{"offset":0.5089,"color":"#fff"},{"offset":0.5185,"color":"#000"},{"offset":0.5281,"color":"#fff"},{"offset":0.5459,"color":"#fff"},{"offset":0.5556,"color":"#000"},{"offset":0.5652,"color":"#fff"},{"offset":0.583,"color":"#fff"},{"offset":0.5926,"color":"#000"},{"offset":0.6022,"color":"#fff"},{"offset":0.62,"color":"#fff"},{"offset":0.6296,"color":"#000"},{"offset":0.6393,"color":"#fff"},{"offset":0.657,"color":"#fff"},{"offset":0.6667,"color":"#000"},{"offset":0.6763,"color":"#fff"},{"offset":0.6941,"color":"#fff"},{"offset":0.7037,"color":"#000"},{"offset":0.7133,"color":"#fff"},{"offset":0.7311,"color":"#fff"},{"offset":0.7407,"color":"#000"},{"offset":0.7504,"color":"#fff"},{"offset":0.7681,"color":"#fff"},{"offset":0.7778,"color":"#000"},{"offset":0.7874,"color":"#fff"},{"offset":0.8052,"color":"#fff"},{"offset":0.8148,"color":"#000"},{"offset":0.8244,"color":"#fff"},{"offset":0.8422,"color":"#fff"},{"offset":0.8519,"color":"#000"},{"offset":0.8615,"color":"#fff"},{"offset":0.8793,"color":"#fff"},{"offset":0.8889,"color":"#000"},{"offset":0.8985,"color":"#fff"},{"offset":0.9163,"color":"#fff"},{"offset":0.9259,"color":"#000"},{"offset":0.9356,"color":"#fff"},{"offset":0.9533,"color":"#fff"},{"offset":0.963,"color":"#000"},{"offset":0.9726,"color":"#fff"},{"offset":0.9904,"color":"#fff"},{"offset":1,"color":"#000"}]}},"encoding":{"x":{"field":"group","type":"nominal","scale":{"type":"band","domain":["PBS Vehicle","PBS TSA","Alternaria Vehicle","Alternaria TSA"],"paddingInner":0.333,"paddingOuter":0.16,"align":0.6}},"y":{"datum":800,"type":"quantitative","scale":{"domain":[0,800],"nice":false}},"y2":{"datum":0}}},
{"data":{"name":"bars"},"transform":[{"filter":"datum.source === 'Lung homogenate' && datum.cytokine === 'CCL22' && datum.group === 'Alternaria TSA'"}],"mark":{"type":"bar","fill":"#ffffff","size":57,"strokeWidth":0},"encoding":{"x":{"field":"group","type":"nominal","scale":{"type":"band","domain":["PBS Vehicle","PBS TSA","Alternaria Vehicle","Alternaria TSA"],"paddingInner":0.333,"paddingOuter":0.16,"align":0.6}},"y":{"field":"mean","type":"quantitative","scale":{"domain":[0,800],"nice":false}},"y2":{"datum":800}}},
{"data":{"name":"bars"},"transform":[{"filter":"datum.source === 'Lung homogenate' && datum.cytokine === 'CCL22'"}],"mark":{"type":"bar","size":53,"stroke":"#000000","strokeWidth":2},"encoding":{"x":{"field":"group","type":"nominal","scale":{"type":"band","domain":["PBS Vehicle","PBS TSA","Alternaria Vehicle","Alternaria TSA"],"paddingInner":0.333,"paddingOuter":0.16,"align":0.6},"axis":{"title":null,"ticks":false,"domainWidth":2.5,"labelExpr":"split(datum.value, ' ')[1]","labelAngle":0,"labelFontSize":20,"labelPadding":19,"labelOverlap":false,"labelAlign":{"condition":{"test":"indexof(datum.value, 'Vehicle') >= 0","value":"right"},"value":"left"},"labelOffset":{"condition":{"test":"indexof(datum.value, 'Vehicle') >= 0","value":36},"value":-36}}},"y":{"field":"mean","type":"quantitative","scale":{"domain":[0,800],"nice":false},"axis":{"title":null,"values":[0,200,400,600,800],"format":"d"}},"fill":{"field":"group","type":"nominal","scale":{"domain":["PBS Vehicle","PBS TSA","Alternaria Vehicle","Alternaria TSA"],"range":["#ffffff","#8c8c8c","#000000","transparent"]},"legend":null}}},
{"data":{"name":"bars"},"transform":[{"filter":"datum.source === 'Lung homogenate' && datum.cytokine === 'CCL22'"}],"mark":{"type":"rule","color":"#000000","strokeWidth":2},"encoding":{"x":{"field":"group","type":"nominal","scale":{"type":"band","domain":["PBS Vehicle","PBS TSA","Alternaria Vehicle","Alternaria TSA"],"paddingInner":0.333,"paddingOuter":0.16,"align":0.6}},"y":{"field":"mean","type":"quantitative","scale":{"domain":[0,800],"nice":false}},"y2":{"field":"upper"}}},
{"data":{"name":"bars"},"transform":[{"filter":"datum.source === 'Lung homogenate' && datum.cytokine === 'CCL22'"}],"mark":{"type":"tick","color":"#000000","size":24,"thickness":2.5},"encoding":{"x":{"field":"group","type":"nominal","scale":{"type":"band","domain":["PBS Vehicle","PBS TSA","Alternaria Vehicle","Alternaria TSA"],"paddingInner":0.333,"paddingOuter":0.16,"align":0.6}},"y":{"field":"upper","type":"quantitative","scale":{"domain":[0,800],"nice":false}}}},
{"data":{"name":"sig"},"transform":[{"filter":"datum.source === 'Lung homogenate' && datum.cytokine === 'CCL22'"}],"mark":{"type":"rule","color":"#000000","strokeWidth":3,"xOffset":7,"x2Offset":-3},"encoding":{"x":{"field":"from","type":"nominal","bandPosition":0.5,"scale":{"type":"band","domain":["PBS Vehicle","PBS TSA","Alternaria Vehicle","Alternaria TSA"],"paddingInner":0.333,"paddingOuter":0.16,"align":0.6}},"x2":{"field":"to"},"y":{"field":"level","type":"quantitative","scale":{"domain":[0,800],"nice":false}}}},
{"data":{"name":"sig"},"transform":[{"filter":"datum.source === 'Lung homogenate' && datum.cytokine === 'CCL22' && datum.from === 'PBS Vehicle'"}],"mark":{"type":"text","font":"DejaVu Sans","fontSize":38,"dx":79.5,"dy":10.7,"baseline":"alphabetic","align":"center","color":"#000000"},"encoding":{"x":{"field":"from","type":"nominal","bandPosition":0.5,"scale":{"type":"band","domain":["PBS Vehicle","PBS TSA","Alternaria Vehicle","Alternaria TSA"],"paddingInner":0.333,"paddingOuter":0.16,"align":0.6}},"y":{"field":"level","type":"quantitative","scale":{"domain":[0,800],"nice":false}},"text":{"field":"label"}}},
{"data":{"name":"sig"},"transform":[{"filter":"datum.source === 'Lung homogenate' && datum.cytokine === 'CCL22' && datum.from !== 'PBS Vehicle'"}],"mark":{"type":"text","font":"DejaVu Sans","fontSize":38,"dx":39.75,"dy":10.7,"baseline":"alphabetic","align":"center","color":"#000000"},"encoding":{"x":{"field":"from","type":"nominal","bandPosition":0.5,"scale":{"type":"band","domain":["PBS Vehicle","PBS TSA","Alternaria Vehicle","Alternaria TSA"],"paddingInner":0.333,"paddingOuter":0.16,"align":0.6}},"y":{"field":"level","type":"quantitative","scale":{"domain":[0,800],"nice":false}},"text":{"field":"label"}}},
{"data":{"name":"groups"},"mark":{"type":"rule","color":"#000000","strokeWidth":3.5,"xOffset":-40,"x2Offset":25,"yOffset":55},"encoding":{"x":{"field":"from","type":"nominal","bandPosition":0.5,"scale":{"type":"band","domain":["PBS Vehicle","PBS TSA","Alternaria Vehicle","Alternaria TSA"],"paddingInner":0.333,"paddingOuter":0.16,"align":0.6}},"x2":{"field":"to"},"y":{"datum":0,"type":"quantitative","scale":{"domain":[0,800],"nice":false}}}},
{"data":{"name":"groups"},"transform":[{"filter":"datum.name === 'PBS'"}],"mark":{"type":"text","font":"Liberation Sans","fontSize":23,"fontWeight":"bold","dx":5,"dy":84,"baseline":"alphabetic","align":"center","color":"#000000"},"encoding":{"x":{"field":"from","type":"nominal","bandPosition":1,"scale":{"type":"band","domain":["PBS Vehicle","PBS TSA","Alternaria Vehicle","Alternaria TSA"],"paddingInner":0.333,"paddingOuter":0.16,"align":0.6}},"y":{"datum":0,"type":"quantitative","scale":{"domain":[0,800],"nice":false}},"text":{"field":"name"}}},
{"data":{"name":"groups"},"transform":[{"filter":"datum.name === 'Alternaria'"}],"mark":{"type":"text","font":"Liberation Sans","fontSize":23,"fontWeight":"bold","fontStyle":"italic","dx":5,"dy":84,"baseline":"alphabetic","align":"center","color":"#000000"},"encoding":{"x":{"field":"from","type":"nominal","bandPosition":1,"scale":{"type":"band","domain":["PBS Vehicle","PBS TSA","Alternaria Vehicle","Alternaria TSA"],"paddingInner":0.333,"paddingOuter":0.16,"align":0.6}},"y":{"datum":0,"type":"quantitative","scale":{"domain":[0,800],"nice":false}},"text":{"field":"name"}}}
]}
],
"config": {
"font": "Liberation Sans",
"background": "#ffffff",
"view": {"stroke": null},
"axis": {"domainColor": "#000000", "tickColor": "#000000", "labelColor": "#000000", "titleColor": "#000000", "grid": false, "labelFont": "Liberation Sans", "labelFontWeight": "bold", "titleFont": "Liberation Sans", "titleFontWeight": "bold"},
"axisY": {"domainWidth": 2, "tickWidth": 2, "tickSize": 5, "labelFontSize": 16, "labelPadding": 2, "titleFontSize": 22}
}
}
